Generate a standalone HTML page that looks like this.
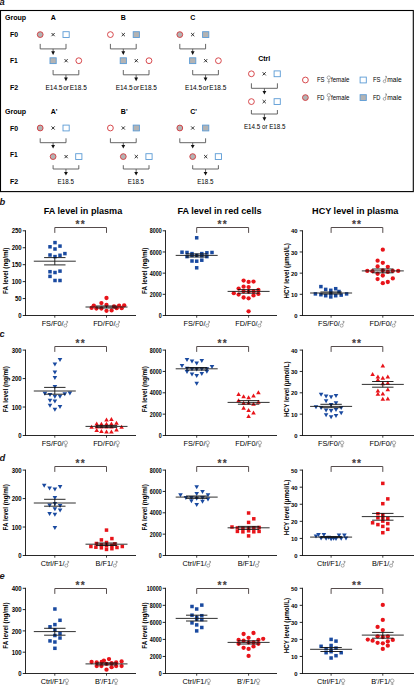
<!DOCTYPE html>
<html><head><meta charset="utf-8"><style>
html,body{margin:0;padding:0;background:#fff;}
body{width:414px;height:685px;overflow:hidden;}
svg{display:block;font-family:"Liberation Sans", sans-serif;}
</style></head><body>
<svg width="414" height="685" viewBox="0 0 414 685">
<rect width="414" height="685" fill="#fff"/>
<rect x="0.5" y="10.5" width="412.8" height="181.1" fill="none" stroke="#000" stroke-width="1.1"/>
<text x="-0.60" y="4.60" font-size="9.4" font-weight="bold" text-anchor="start" fill="#1a1414" font-style="italic">a</text>
<text x="4.90" y="19.80" font-size="7.3" font-weight="bold" text-anchor="start" fill="#000"  textLength="21.20" lengthAdjust="spacingAndGlyphs">Group</text>
<text x="9.90" y="36.90" font-size="7.8" font-weight="bold" text-anchor="start" fill="#000"  textLength="8.10" lengthAdjust="spacingAndGlyphs">F0</text>
<text x="9.90" y="62.90" font-size="7.8" font-weight="bold" text-anchor="start" fill="#000"  textLength="7.80" lengthAdjust="spacingAndGlyphs">F1</text>
<text x="9.90" y="90.00" font-size="7.8" font-weight="bold" text-anchor="start" fill="#000"  textLength="8.20" lengthAdjust="spacingAndGlyphs">F2</text>
<text x="4.90" y="113.80" font-size="7.3" font-weight="bold" text-anchor="start" fill="#000"  textLength="21.20" lengthAdjust="spacingAndGlyphs">Group</text>
<text x="9.90" y="130.90" font-size="7.8" font-weight="bold" text-anchor="start" fill="#000"  textLength="8.10" lengthAdjust="spacingAndGlyphs">F0</text>
<text x="9.90" y="156.90" font-size="7.8" font-weight="bold" text-anchor="start" fill="#000"  textLength="7.80" lengthAdjust="spacingAndGlyphs">F1</text>
<text x="9.90" y="184.00" font-size="7.8" font-weight="bold" text-anchor="start" fill="#000"  textLength="8.20" lengthAdjust="spacingAndGlyphs">F2</text>
<text x="53.20" y="19.90" font-size="7" font-weight="bold" text-anchor="middle" fill="#000" >A</text>
<circle cx="40.20" cy="34.60" r="2.9" fill="#b3b3b3" stroke="#d2363a" stroke-width="0.9"/>
<path d="M51.50,33.00 L54.70,36.20 M54.70,33.00 L51.50,36.20" stroke="#111" stroke-width="0.85" fill="none"/>
<rect x="63.00" y="31.70" width="6.2" height="5.8" fill="#fff" stroke="#5b9bd5" stroke-width="0.9"/>
<path d="M40.20,43.90 V48.90 H66.00 V43.90 M53.10,48.90 V52.00" fill="none" stroke="#555" stroke-width="0.9"/>
<path d="M51.20,51.30 L55.00,51.30 L53.10,55.00 Z" fill="#111"/>
<rect x="50.00" y="57.80" width="6.2" height="5.8" fill="#b3b3b3" stroke="#5b9bd5" stroke-width="0.9"/>
<path d="M64.50,59.10 L67.70,62.30 M67.70,59.10 L64.50,62.30" stroke="#111" stroke-width="0.85" fill="none"/>
<circle cx="78.80" cy="60.70" r="2.9" fill="#fff" stroke="#d2363a" stroke-width="0.9"/>
<path d="M53.10,70.00 V74.80 H78.80 V70.00 M65.95,74.80 V78.20" fill="none" stroke="#555" stroke-width="0.9"/>
<path d="M64.05,77.50 L67.85,77.50 L65.95,81.20 Z" fill="#111"/>
<text x="66.10" y="90.30" font-size="7" text-anchor="middle" fill="#000" word-spacing="-1.1" textLength="41.30" lengthAdjust="spacingAndGlyphs">E14.5 or E18.5</text>
<text x="123.40" y="19.90" font-size="7" font-weight="bold" text-anchor="middle" fill="#000" >B</text>
<circle cx="110.40" cy="34.60" r="2.9" fill="#fff" stroke="#d2363a" stroke-width="0.9"/>
<path d="M121.70,33.00 L124.90,36.20 M124.90,33.00 L121.70,36.20" stroke="#111" stroke-width="0.85" fill="none"/>
<rect x="133.20" y="31.70" width="6.2" height="5.8" fill="#b3b3b3" stroke="#5b9bd5" stroke-width="0.9"/>
<path d="M110.40,43.90 V48.90 H136.20 V43.90 M123.30,48.90 V52.00" fill="none" stroke="#555" stroke-width="0.9"/>
<path d="M121.40,51.30 L125.20,51.30 L123.30,55.00 Z" fill="#111"/>
<rect x="120.20" y="57.80" width="6.2" height="5.8" fill="#b3b3b3" stroke="#5b9bd5" stroke-width="0.9"/>
<path d="M134.70,59.10 L137.90,62.30 M137.90,59.10 L134.70,62.30" stroke="#111" stroke-width="0.85" fill="none"/>
<circle cx="149.00" cy="60.70" r="2.9" fill="#fff" stroke="#d2363a" stroke-width="0.9"/>
<path d="M123.30,70.00 V74.80 H149.00 V70.00 M136.15,74.80 V78.20" fill="none" stroke="#555" stroke-width="0.9"/>
<path d="M134.25,77.50 L138.05,77.50 L136.15,81.20 Z" fill="#111"/>
<text x="136.30" y="90.30" font-size="7" text-anchor="middle" fill="#000" word-spacing="-1.1" textLength="41.30" lengthAdjust="spacingAndGlyphs">E14.5 or E18.5</text>
<text x="192.80" y="19.90" font-size="7" font-weight="bold" text-anchor="middle" fill="#000" >C</text>
<circle cx="179.80" cy="34.60" r="2.9" fill="#b3b3b3" stroke="#d2363a" stroke-width="0.9"/>
<path d="M191.10,33.00 L194.30,36.20 M194.30,33.00 L191.10,36.20" stroke="#111" stroke-width="0.85" fill="none"/>
<rect x="202.60" y="31.70" width="6.2" height="5.8" fill="#b3b3b3" stroke="#5b9bd5" stroke-width="0.9"/>
<path d="M179.80,43.90 V48.90 H205.60 V43.90 M192.70,48.90 V52.00" fill="none" stroke="#555" stroke-width="0.9"/>
<path d="M190.80,51.30 L194.60,51.30 L192.70,55.00 Z" fill="#111"/>
<rect x="189.60" y="57.80" width="6.2" height="5.8" fill="#b3b3b3" stroke="#5b9bd5" stroke-width="0.9"/>
<path d="M204.10,59.10 L207.30,62.30 M207.30,59.10 L204.10,62.30" stroke="#111" stroke-width="0.85" fill="none"/>
<circle cx="218.40" cy="60.70" r="2.9" fill="#fff" stroke="#d2363a" stroke-width="0.9"/>
<path d="M192.70,70.00 V74.80 H218.40 V70.00 M205.55,74.80 V78.20" fill="none" stroke="#555" stroke-width="0.9"/>
<path d="M203.65,77.50 L207.45,77.50 L205.55,81.20 Z" fill="#111"/>
<text x="205.70" y="90.30" font-size="7" text-anchor="middle" fill="#000" word-spacing="-1.1" textLength="41.30" lengthAdjust="spacingAndGlyphs">E14.5 or E18.5</text>
<text x="50.67" y="113.90" font-size="7" font-weight="bold" text-anchor="start" fill="#000" >A'</text>
<circle cx="40.20" cy="128.00" r="2.9" fill="#b3b3b3" stroke="#d2363a" stroke-width="0.9"/>
<path d="M51.50,126.40 L54.70,129.60 M54.70,126.40 L51.50,129.60" stroke="#111" stroke-width="0.85" fill="none"/>
<rect x="63.00" y="125.10" width="6.2" height="5.8" fill="#fff" stroke="#5b9bd5" stroke-width="0.9"/>
<path d="M40.20,138.30 V142.70 H66.00 V138.30 M53.10,142.70 V145.60" fill="none" stroke="#555" stroke-width="0.9"/>
<path d="M51.20,144.90 L55.00,144.90 L53.10,148.60 Z" fill="#111"/>
<circle cx="53.10" cy="156.60" r="2.9" fill="#b3b3b3" stroke="#d2363a" stroke-width="0.9"/>
<path d="M64.50,155.00 L67.70,158.20 M67.70,155.00 L64.50,158.20" stroke="#111" stroke-width="0.85" fill="none"/>
<rect x="75.70" y="153.70" width="6.2" height="5.8" fill="#fff" stroke="#5b9bd5" stroke-width="0.9"/>
<path d="M53.10,165.20 V169.00 H78.80 V165.20 M65.95,169.00 V172.60" fill="none" stroke="#555" stroke-width="0.9"/>
<path d="M64.05,171.90 L67.85,171.90 L65.95,175.60 Z" fill="#111"/>
<text x="65.70" y="184.00" font-size="7" text-anchor="middle" fill="#000"  textLength="16.30" lengthAdjust="spacingAndGlyphs">E18.5</text>
<text x="120.87" y="113.90" font-size="7" font-weight="bold" text-anchor="start" fill="#000" >B'</text>
<circle cx="110.40" cy="128.00" r="2.9" fill="#fff" stroke="#d2363a" stroke-width="0.9"/>
<path d="M121.70,126.40 L124.90,129.60 M124.90,126.40 L121.70,129.60" stroke="#111" stroke-width="0.85" fill="none"/>
<rect x="133.20" y="125.10" width="6.2" height="5.8" fill="#b3b3b3" stroke="#5b9bd5" stroke-width="0.9"/>
<path d="M110.40,138.30 V142.70 H136.20 V138.30 M123.30,142.70 V145.60" fill="none" stroke="#555" stroke-width="0.9"/>
<path d="M121.40,144.90 L125.20,144.90 L123.30,148.60 Z" fill="#111"/>
<circle cx="123.30" cy="156.60" r="2.9" fill="#b3b3b3" stroke="#d2363a" stroke-width="0.9"/>
<path d="M134.70,155.00 L137.90,158.20 M137.90,155.00 L134.70,158.20" stroke="#111" stroke-width="0.85" fill="none"/>
<rect x="145.90" y="153.70" width="6.2" height="5.8" fill="#fff" stroke="#5b9bd5" stroke-width="0.9"/>
<path d="M123.30,165.20 V169.00 H149.00 V165.20 M136.15,169.00 V172.60" fill="none" stroke="#555" stroke-width="0.9"/>
<path d="M134.25,171.90 L138.05,171.90 L136.15,175.60 Z" fill="#111"/>
<text x="135.90" y="184.00" font-size="7" text-anchor="middle" fill="#000"  textLength="16.30" lengthAdjust="spacingAndGlyphs">E18.5</text>
<text x="190.27" y="113.90" font-size="7" font-weight="bold" text-anchor="start" fill="#000" >C'</text>
<circle cx="179.80" cy="128.00" r="2.9" fill="#b3b3b3" stroke="#d2363a" stroke-width="0.9"/>
<path d="M191.10,126.40 L194.30,129.60 M194.30,126.40 L191.10,129.60" stroke="#111" stroke-width="0.85" fill="none"/>
<rect x="202.60" y="125.10" width="6.2" height="5.8" fill="#b3b3b3" stroke="#5b9bd5" stroke-width="0.9"/>
<path d="M179.80,138.30 V142.70 H205.60 V138.30 M192.70,142.70 V145.60" fill="none" stroke="#555" stroke-width="0.9"/>
<path d="M190.80,144.90 L194.60,144.90 L192.70,148.60 Z" fill="#111"/>
<circle cx="192.70" cy="156.60" r="2.9" fill="#b3b3b3" stroke="#d2363a" stroke-width="0.9"/>
<path d="M204.10,155.00 L207.30,158.20 M207.30,155.00 L204.10,158.20" stroke="#111" stroke-width="0.85" fill="none"/>
<rect x="215.30" y="153.70" width="6.2" height="5.8" fill="#fff" stroke="#5b9bd5" stroke-width="0.9"/>
<path d="M192.70,165.20 V169.00 H218.40 V165.20 M205.55,169.00 V172.60" fill="none" stroke="#555" stroke-width="0.9"/>
<path d="M203.65,171.90 L207.45,171.90 L205.55,175.60 Z" fill="#111"/>
<text x="205.30" y="184.00" font-size="7" text-anchor="middle" fill="#000"  textLength="16.30" lengthAdjust="spacingAndGlyphs">E18.5</text>
<text x="264.20" y="61.00" font-size="7" font-weight="bold" text-anchor="middle" fill="#000" >Ctrl</text>
<circle cx="251.40" cy="73.80" r="2.9" fill="#fff" stroke="#d2363a" stroke-width="0.9"/>
<path d="M262.60,72.20 L265.80,75.40 M265.80,72.20 L262.60,75.40" stroke="#111" stroke-width="0.85" fill="none"/>
<rect x="274.10" y="70.90" width="6.2" height="5.8" fill="#fff" stroke="#5b9bd5" stroke-width="0.9"/>
<circle cx="251.40" cy="101.60" r="2.9" fill="#fff" stroke="#d2363a" stroke-width="0.9"/>
<path d="M262.60,100.00 L265.80,103.20 M265.80,100.00 L262.60,103.20" stroke="#111" stroke-width="0.85" fill="none"/>
<rect x="274.10" y="98.70" width="6.2" height="5.8" fill="#fff" stroke="#5b9bd5" stroke-width="0.9"/>
<path d="M251.40,83.30 V88.30 H277.40 V83.30 M264.40,88.30 V91.60" fill="none" stroke="#555" stroke-width="0.9"/>
<path d="M262.50,90.90 L266.30,90.90 L264.40,94.60 Z" fill="#111"/>
<path d="M251.40,110.00 V114.00 H277.40 V110.00 M264.40,114.00 V118.00" fill="none" stroke="#555" stroke-width="0.9"/>
<path d="M262.50,117.30 L266.30,117.30 L264.40,121.00 Z" fill="#111"/>
<text x="264.70" y="129.10" font-size="6.8" text-anchor="middle" fill="#000"  textLength="41.50" lengthAdjust="spacingAndGlyphs">E14.5 or E18.5</text>
<circle cx="305.40" cy="80.00" r="2.9" fill="#fff" stroke="#d2363a" stroke-width="0.9"/>
<rect x="360.10" y="77.10" width="6.2" height="5.8" fill="#fff" stroke="#5b9bd5" stroke-width="0.9"/>
<circle cx="305.40" cy="97.60" r="2.9" fill="#b3b3b3" stroke="#d2363a" stroke-width="0.9"/>
<rect x="360.10" y="94.70" width="6.2" height="5.8" fill="#b3b3b3" stroke="#5b9bd5" stroke-width="0.9"/>
<text x="316.90" y="82.40" font-size="7.4" text-anchor="start" fill="#000"  textLength="7.60" lengthAdjust="spacingAndGlyphs">FS</text>
<g fill="none" stroke="#858585" stroke-width="0.7"><circle cx="328.80" cy="77.65" r="1.70"/><path d="M328.80,79.35 V83.60 M327.44,81.48 H330.16"/></g>
<text x="331.00" y="82.40" font-size="7.4" text-anchor="start" fill="#000"  textLength="18.40" lengthAdjust="spacingAndGlyphs">female</text>
<text x="372.90" y="82.40" font-size="7.4" text-anchor="start" fill="#000"  textLength="7.60" lengthAdjust="spacingAndGlyphs">FS</text>
<g fill="none" stroke="#858585" stroke-width="0.7"><circle cx="384.51" cy="81.29" r="1.36"/><path d="M385.46,80.34 L386.45,76.35 M385.05,76.35 H386.45 V77.75"/></g>
<text x="387.20" y="82.40" font-size="7.4" text-anchor="start" fill="#000"  textLength="14.40" lengthAdjust="spacingAndGlyphs">male</text>
<text x="316.90" y="100.00" font-size="7.4" text-anchor="start" fill="#000"  textLength="7.60" lengthAdjust="spacingAndGlyphs">FD</text>
<g fill="none" stroke="#858585" stroke-width="0.7"><circle cx="328.80" cy="95.25" r="1.70"/><path d="M328.80,96.95 V101.20 M327.44,99.08 H330.16"/></g>
<text x="331.00" y="100.00" font-size="7.4" text-anchor="start" fill="#000"  textLength="18.40" lengthAdjust="spacingAndGlyphs">female</text>
<text x="372.90" y="100.00" font-size="7.4" text-anchor="start" fill="#000"  textLength="7.60" lengthAdjust="spacingAndGlyphs">FD</text>
<g fill="none" stroke="#858585" stroke-width="0.7"><circle cx="384.51" cy="98.89" r="1.36"/><path d="M385.46,97.94 L386.45,93.95 M385.05,93.95 H386.45 V95.35"/></g>
<text x="387.20" y="100.00" font-size="7.4" text-anchor="start" fill="#000"  textLength="14.40" lengthAdjust="spacingAndGlyphs">male</text>
<line x1="25.50" y1="230.30" x2="25.50" y2="315.95" stroke="#111" stroke-width="0.9"/>
<line x1="22.70" y1="315.50" x2="25.50" y2="315.50" stroke="#111" stroke-width="0.9"/>
<text x="21.70" y="318.12" font-size="6.3" font-weight="bold" text-anchor="end" fill="#000"  textLength="3.33" lengthAdjust="spacingAndGlyphs">0</text>
<line x1="22.70" y1="298.56" x2="25.50" y2="298.56" stroke="#111" stroke-width="0.9"/>
<text x="21.70" y="301.18" font-size="6.3" font-weight="bold" text-anchor="end" fill="#000"  textLength="6.66" lengthAdjust="spacingAndGlyphs">50</text>
<line x1="22.70" y1="281.62" x2="25.50" y2="281.62" stroke="#111" stroke-width="0.9"/>
<text x="21.70" y="284.24" font-size="6.3" font-weight="bold" text-anchor="end" fill="#000"  textLength="9.99" lengthAdjust="spacingAndGlyphs">100</text>
<line x1="22.70" y1="264.68" x2="25.50" y2="264.68" stroke="#111" stroke-width="0.9"/>
<text x="21.70" y="267.30" font-size="6.3" font-weight="bold" text-anchor="end" fill="#000"  textLength="9.99" lengthAdjust="spacingAndGlyphs">150</text>
<line x1="22.70" y1="247.74" x2="25.50" y2="247.74" stroke="#111" stroke-width="0.9"/>
<text x="21.70" y="250.36" font-size="6.3" font-weight="bold" text-anchor="end" fill="#000"  textLength="9.99" lengthAdjust="spacingAndGlyphs">200</text>
<line x1="22.70" y1="230.80" x2="25.50" y2="230.80" stroke="#111" stroke-width="0.9"/>
<text x="21.70" y="233.42" font-size="6.3" font-weight="bold" text-anchor="end" fill="#000"  textLength="9.99" lengthAdjust="spacingAndGlyphs">250</text>
<line x1="25.05" y1="315.50" x2="136.00" y2="315.50" stroke="#111" stroke-width="0.9"/>
<line x1="54.80" y1="315.50" x2="54.80" y2="317.70" stroke="#111" stroke-width="0.8"/>
<line x1="106.50" y1="315.50" x2="106.50" y2="317.70" stroke="#111" stroke-width="0.8"/>
<text x="41.65" y="326.00" font-size="7.3" text-anchor="start" fill="#000" >FS/F0/</text>
<g fill="none" stroke="#858585" stroke-width="0.7"><circle cx="65.33" cy="325.62" r="1.53"/><path d="M66.40,324.55 L67.60,321.35 M66.20,321.35 H67.60 V322.75"/></g>
<text x="93.15" y="326.00" font-size="7.3" text-anchor="start" fill="#000" >FD/F0/</text>
<g fill="none" stroke="#858585" stroke-width="0.7"><circle cx="117.23" cy="325.62" r="1.53"/><path d="M118.30,324.55 L119.50,321.35 M118.10,321.35 H119.50 V322.75"/></g>
<text x="0" y="0" font-size="6.3" font-weight="bold" text-anchor="middle" transform="translate(8.10,270.80) rotate(-90)">FA level (ng/ml)</text>
<path d="M54.80,232.90 V227.50 H106.50 V232.90" fill="none" stroke="#554c4c" stroke-width="1"/>
<text x="75.60" y="228.40" font-size="10.2" font-weight="bold" text-anchor="start" fill="#453d3d" letter-spacing="1.2" stroke="#453d3d" stroke-width="0.1">**</text>
<text x="83.00" y="213.90" font-size="9.1" font-weight="bold" text-anchor="middle" fill="#000" >FA level in plasma</text>
<rect x="53.25" y="240.85" width="3.5" height="3.5" fill="#1a4aa0"/>
<rect x="48.25" y="245.05" width="3.5" height="3.5" fill="#1a4aa0"/>
<rect x="58.25" y="244.35" width="3.5" height="3.5" fill="#1a4aa0"/>
<rect x="53.25" y="247.25" width="3.5" height="3.5" fill="#1a4aa0"/>
<rect x="63.15" y="251.85" width="3.5" height="3.5" fill="#1a4aa0"/>
<rect x="48.25" y="253.25" width="3.5" height="3.5" fill="#1a4aa0"/>
<rect x="58.25" y="253.55" width="3.5" height="3.5" fill="#1a4aa0"/>
<rect x="53.25" y="254.85" width="3.5" height="3.5" fill="#1a4aa0"/>
<rect x="48.25" y="269.95" width="3.5" height="3.5" fill="#1a4aa0"/>
<rect x="53.25" y="270.75" width="3.5" height="3.5" fill="#1a4aa0"/>
<rect x="58.25" y="269.35" width="3.5" height="3.5" fill="#1a4aa0"/>
<rect x="48.25" y="274.65" width="3.5" height="3.5" fill="#1a4aa0"/>
<rect x="53.25" y="278.75" width="3.5" height="3.5" fill="#1a4aa0"/>
<rect x="58.25" y="278.75" width="3.5" height="3.5" fill="#1a4aa0"/>
<line x1="44.10" y1="257.60" x2="65.50" y2="257.60" stroke="#111" stroke-width="0.9"/>
<line x1="44.10" y1="264.90" x2="65.50" y2="264.90" stroke="#111" stroke-width="0.9"/>
<line x1="54.80" y1="257.60" x2="54.80" y2="264.90" stroke="#111" stroke-width="0.9"/>
<line x1="33.80" y1="261.20" x2="75.80" y2="261.20" stroke="#1a1a1a" stroke-width="0.9"/>
<circle cx="106.50" cy="298.00" r="2.15" fill="#e8141a"/>
<circle cx="101.40" cy="303.10" r="2.15" fill="#e8141a"/>
<circle cx="93.80" cy="305.60" r="2.15" fill="#e8141a"/>
<circle cx="119.10" cy="305.60" r="2.15" fill="#e8141a"/>
<circle cx="124.20" cy="305.30" r="2.15" fill="#e8141a"/>
<circle cx="106.50" cy="304.90" r="2.15" fill="#e8141a"/>
<circle cx="91.60" cy="307.90" r="2.15" fill="#e8141a"/>
<circle cx="96.40" cy="308.50" r="2.15" fill="#e8141a"/>
<circle cx="101.40" cy="308.50" r="2.15" fill="#e8141a"/>
<circle cx="106.50" cy="310.80" r="2.15" fill="#e8141a"/>
<circle cx="111.60" cy="310.40" r="2.15" fill="#e8141a"/>
<circle cx="116.70" cy="308.20" r="2.15" fill="#e8141a"/>
<circle cx="121.70" cy="308.20" r="2.15" fill="#e8141a"/>
<circle cx="114.00" cy="306.40" r="2.15" fill="#e8141a"/>
<line x1="95.80" y1="306.00" x2="117.20" y2="306.00" stroke="#111" stroke-width="0.9"/>
<line x1="95.80" y1="308.00" x2="117.20" y2="308.00" stroke="#111" stroke-width="0.9"/>
<line x1="106.50" y1="306.00" x2="106.50" y2="308.00" stroke="#111" stroke-width="0.9"/>
<line x1="85.50" y1="307.00" x2="127.50" y2="307.00" stroke="#1a1a1a" stroke-width="0.9"/>
<line x1="165.50" y1="230.30" x2="165.50" y2="315.95" stroke="#111" stroke-width="0.9"/>
<line x1="162.70" y1="315.50" x2="165.50" y2="315.50" stroke="#111" stroke-width="0.9"/>
<text x="161.70" y="318.12" font-size="6.3" font-weight="bold" text-anchor="end" fill="#000"  textLength="2.98" lengthAdjust="spacingAndGlyphs">0</text>
<line x1="162.70" y1="294.32" x2="165.50" y2="294.32" stroke="#111" stroke-width="0.9"/>
<text x="161.70" y="296.94" font-size="6.3" font-weight="bold" text-anchor="end" fill="#000"  textLength="11.91" lengthAdjust="spacingAndGlyphs">2000</text>
<line x1="162.70" y1="273.15" x2="165.50" y2="273.15" stroke="#111" stroke-width="0.9"/>
<text x="161.70" y="275.77" font-size="6.3" font-weight="bold" text-anchor="end" fill="#000"  textLength="11.91" lengthAdjust="spacingAndGlyphs">4000</text>
<line x1="162.70" y1="251.98" x2="165.50" y2="251.98" stroke="#111" stroke-width="0.9"/>
<text x="161.70" y="254.59" font-size="6.3" font-weight="bold" text-anchor="end" fill="#000"  textLength="11.91" lengthAdjust="spacingAndGlyphs">6000</text>
<line x1="162.70" y1="230.80" x2="165.50" y2="230.80" stroke="#111" stroke-width="0.9"/>
<text x="161.70" y="233.42" font-size="6.3" font-weight="bold" text-anchor="end" fill="#000"  textLength="11.91" lengthAdjust="spacingAndGlyphs">8000</text>
<line x1="165.05" y1="315.50" x2="277.00" y2="315.50" stroke="#111" stroke-width="0.9"/>
<line x1="196.70" y1="315.50" x2="196.70" y2="317.70" stroke="#111" stroke-width="0.8"/>
<line x1="248.60" y1="315.50" x2="248.60" y2="317.70" stroke="#111" stroke-width="0.8"/>
<text x="183.55" y="326.00" font-size="7.3" text-anchor="start" fill="#000" >FS/F0/</text>
<g fill="none" stroke="#858585" stroke-width="0.7"><circle cx="207.23" cy="325.62" r="1.53"/><path d="M208.30,324.55 L209.50,321.35 M208.10,321.35 H209.50 V322.75"/></g>
<text x="235.25" y="326.00" font-size="7.3" text-anchor="start" fill="#000" >FD/F0/</text>
<g fill="none" stroke="#858585" stroke-width="0.7"><circle cx="259.33" cy="325.62" r="1.53"/><path d="M260.40,324.55 L261.60,321.35 M260.20,321.35 H261.60 V322.75"/></g>
<text x="0" y="0" font-size="6.3" font-weight="bold" text-anchor="middle" transform="translate(146.60,270.80) rotate(-90)">FA level (ng/ml)</text>
<path d="M196.70,232.90 V227.50 H248.60 V232.90" fill="none" stroke="#554c4c" stroke-width="1"/>
<text x="217.60" y="228.40" font-size="10.2" font-weight="bold" text-anchor="start" fill="#453d3d" letter-spacing="1.2" stroke="#453d3d" stroke-width="0.1">**</text>
<text x="219.50" y="213.90" font-size="9.1" font-weight="bold" text-anchor="middle" fill="#000" >FA level in red cells</text>
<rect x="194.95" y="236.05" width="3.5" height="3.5" fill="#1a4aa0"/>
<rect x="180.25" y="250.45" width="3.5" height="3.5" fill="#1a4aa0"/>
<rect x="185.25" y="250.75" width="3.5" height="3.5" fill="#1a4aa0"/>
<rect x="190.25" y="251.85" width="3.5" height="3.5" fill="#1a4aa0"/>
<rect x="200.05" y="251.85" width="3.5" height="3.5" fill="#1a4aa0"/>
<rect x="205.15" y="251.05" width="3.5" height="3.5" fill="#1a4aa0"/>
<rect x="210.25" y="250.75" width="3.5" height="3.5" fill="#1a4aa0"/>
<rect x="185.25" y="254.85" width="3.5" height="3.5" fill="#1a4aa0"/>
<rect x="190.25" y="253.65" width="3.5" height="3.5" fill="#1a4aa0"/>
<rect x="194.95" y="253.65" width="3.5" height="3.5" fill="#1a4aa0"/>
<rect x="200.05" y="253.95" width="3.5" height="3.5" fill="#1a4aa0"/>
<rect x="205.15" y="254.85" width="3.5" height="3.5" fill="#1a4aa0"/>
<rect x="190.25" y="259.25" width="3.5" height="3.5" fill="#1a4aa0"/>
<rect x="194.95" y="259.45" width="3.5" height="3.5" fill="#1a4aa0"/>
<rect x="200.05" y="258.45" width="3.5" height="3.5" fill="#1a4aa0"/>
<rect x="194.95" y="266.05" width="3.5" height="3.5" fill="#1a4aa0"/>
<line x1="186.00" y1="253.90" x2="207.40" y2="253.90" stroke="#111" stroke-width="0.9"/>
<line x1="186.00" y1="257.00" x2="207.40" y2="257.00" stroke="#111" stroke-width="0.9"/>
<line x1="196.70" y1="253.90" x2="196.70" y2="257.00" stroke="#111" stroke-width="0.9"/>
<line x1="175.70" y1="255.40" x2="217.70" y2="255.40" stroke="#1a1a1a" stroke-width="0.9"/>
<circle cx="243.60" cy="280.60" r="2.15" fill="#e8141a"/>
<circle cx="248.60" cy="281.90" r="2.15" fill="#e8141a"/>
<circle cx="253.50" cy="281.60" r="2.15" fill="#e8141a"/>
<circle cx="243.60" cy="286.70" r="2.15" fill="#e8141a"/>
<circle cx="248.60" cy="287.10" r="2.15" fill="#e8141a"/>
<circle cx="238.60" cy="288.60" r="2.15" fill="#e8141a"/>
<circle cx="243.60" cy="291.30" r="2.15" fill="#e8141a"/>
<circle cx="248.60" cy="291.70" r="2.15" fill="#e8141a"/>
<circle cx="253.50" cy="291.40" r="2.15" fill="#e8141a"/>
<circle cx="258.40" cy="290.00" r="2.15" fill="#e8141a"/>
<circle cx="233.80" cy="293.20" r="2.15" fill="#e8141a"/>
<circle cx="238.60" cy="294.60" r="2.15" fill="#e8141a"/>
<circle cx="253.50" cy="295.40" r="2.15" fill="#e8141a"/>
<circle cx="258.40" cy="293.90" r="2.15" fill="#e8141a"/>
<circle cx="243.60" cy="297.50" r="2.15" fill="#e8141a"/>
<circle cx="248.60" cy="298.30" r="2.15" fill="#e8141a"/>
<circle cx="248.60" cy="311.30" r="2.15" fill="#e8141a"/>
<line x1="237.90" y1="289.60" x2="259.30" y2="289.60" stroke="#111" stroke-width="0.9"/>
<line x1="237.90" y1="293.20" x2="259.30" y2="293.20" stroke="#111" stroke-width="0.9"/>
<line x1="248.60" y1="289.60" x2="248.60" y2="293.20" stroke="#111" stroke-width="0.9"/>
<line x1="227.60" y1="291.40" x2="269.60" y2="291.40" stroke="#1a1a1a" stroke-width="0.9"/>
<line x1="302.50" y1="230.30" x2="302.50" y2="315.95" stroke="#111" stroke-width="0.9"/>
<line x1="299.70" y1="315.50" x2="302.50" y2="315.50" stroke="#111" stroke-width="0.9"/>
<text x="297.50" y="318.05" font-size="6.1" font-weight="bold" text-anchor="end" fill="#000"  textLength="3.26" lengthAdjust="spacingAndGlyphs">0</text>
<line x1="299.70" y1="294.32" x2="302.50" y2="294.32" stroke="#111" stroke-width="0.9"/>
<text x="297.50" y="296.87" font-size="6.1" font-weight="bold" text-anchor="end" fill="#000"  textLength="6.51" lengthAdjust="spacingAndGlyphs">10</text>
<line x1="299.70" y1="273.15" x2="302.50" y2="273.15" stroke="#111" stroke-width="0.9"/>
<text x="297.50" y="275.70" font-size="6.1" font-weight="bold" text-anchor="end" fill="#000"  textLength="6.51" lengthAdjust="spacingAndGlyphs">20</text>
<line x1="299.70" y1="251.98" x2="302.50" y2="251.98" stroke="#111" stroke-width="0.9"/>
<text x="297.50" y="254.52" font-size="6.1" font-weight="bold" text-anchor="end" fill="#000"  textLength="6.51" lengthAdjust="spacingAndGlyphs">30</text>
<line x1="299.70" y1="230.80" x2="302.50" y2="230.80" stroke="#111" stroke-width="0.9"/>
<text x="297.50" y="233.35" font-size="6.1" font-weight="bold" text-anchor="end" fill="#000"  textLength="6.51" lengthAdjust="spacingAndGlyphs">40</text>
<line x1="302.05" y1="315.50" x2="414.50" y2="315.50" stroke="#111" stroke-width="0.9"/>
<line x1="331.10" y1="315.50" x2="331.10" y2="317.70" stroke="#111" stroke-width="0.8"/>
<line x1="382.80" y1="315.50" x2="382.80" y2="317.70" stroke="#111" stroke-width="0.8"/>
<text x="317.95" y="326.00" font-size="7.3" text-anchor="start" fill="#000" >FS/F0/</text>
<g fill="none" stroke="#858585" stroke-width="0.7"><circle cx="341.63" cy="325.62" r="1.53"/><path d="M342.70,324.55 L343.90,321.35 M342.50,321.35 H343.90 V322.75"/></g>
<text x="369.45" y="326.00" font-size="7.3" text-anchor="start" fill="#000" >FD/F0/</text>
<g fill="none" stroke="#858585" stroke-width="0.7"><circle cx="393.53" cy="325.62" r="1.53"/><path d="M394.60,324.55 L395.80,321.35 M394.40,321.35 H395.80 V322.75"/></g>
<text x="0" y="0" font-size="6.3" font-weight="bold" text-anchor="middle" transform="translate(288.80,270.80) rotate(-90)">HCY level (μmol/L)</text>
<path d="M331.10,232.90 V227.50 H382.80 V232.90" fill="none" stroke="#554c4c" stroke-width="1"/>
<text x="351.90" y="228.40" font-size="10.2" font-weight="bold" text-anchor="start" fill="#453d3d" letter-spacing="1.2" stroke="#453d3d" stroke-width="0.1">**</text>
<text x="355.20" y="213.90" font-size="9.1" font-weight="bold" text-anchor="middle" fill="#000" >HCY level in plasma</text>
<rect x="319.15" y="284.85" width="3.5" height="3.5" fill="#1a4aa0"/>
<rect x="323.95" y="287.65" width="3.5" height="3.5" fill="#1a4aa0"/>
<rect x="329.05" y="288.55" width="3.5" height="3.5" fill="#1a4aa0"/>
<rect x="333.95" y="286.95" width="3.5" height="3.5" fill="#1a4aa0"/>
<rect x="337.25" y="289.75" width="3.5" height="3.5" fill="#1a4aa0"/>
<rect x="313.65" y="292.15" width="3.5" height="3.5" fill="#1a4aa0"/>
<rect x="319.15" y="292.95" width="3.5" height="3.5" fill="#1a4aa0"/>
<rect x="323.95" y="293.95" width="3.5" height="3.5" fill="#1a4aa0"/>
<rect x="329.05" y="295.15" width="3.5" height="3.5" fill="#1a4aa0"/>
<rect x="333.95" y="293.95" width="3.5" height="3.5" fill="#1a4aa0"/>
<rect x="339.45" y="293.35" width="3.5" height="3.5" fill="#1a4aa0"/>
<rect x="344.85" y="292.15" width="3.5" height="3.5" fill="#1a4aa0"/>
<rect x="329.05" y="291.75" width="3.5" height="3.5" fill="#1a4aa0"/>
<line x1="320.40" y1="292.00" x2="341.80" y2="292.00" stroke="#111" stroke-width="0.9"/>
<line x1="320.40" y1="294.00" x2="341.80" y2="294.00" stroke="#111" stroke-width="0.9"/>
<line x1="331.10" y1="292.00" x2="331.10" y2="294.00" stroke="#111" stroke-width="0.9"/>
<line x1="310.10" y1="293.00" x2="352.10" y2="293.00" stroke="#1a1a1a" stroke-width="0.9"/>
<circle cx="382.80" cy="249.70" r="2.15" fill="#e8141a"/>
<circle cx="377.60" cy="260.70" r="2.15" fill="#e8141a"/>
<circle cx="382.80" cy="262.80" r="2.15" fill="#e8141a"/>
<circle cx="377.60" cy="266.40" r="2.15" fill="#e8141a"/>
<circle cx="387.80" cy="266.80" r="2.15" fill="#e8141a"/>
<circle cx="367.30" cy="270.90" r="2.15" fill="#e8141a"/>
<circle cx="372.40" cy="271.20" r="2.15" fill="#e8141a"/>
<circle cx="382.80" cy="270.40" r="2.15" fill="#e8141a"/>
<circle cx="387.80" cy="271.90" r="2.15" fill="#e8141a"/>
<circle cx="392.80" cy="270.90" r="2.15" fill="#e8141a"/>
<circle cx="398.20" cy="270.90" r="2.15" fill="#e8141a"/>
<circle cx="377.60" cy="273.80" r="2.15" fill="#e8141a"/>
<circle cx="382.80" cy="275.50" r="2.15" fill="#e8141a"/>
<circle cx="377.60" cy="279.10" r="2.15" fill="#e8141a"/>
<circle cx="392.80" cy="278.40" r="2.15" fill="#e8141a"/>
<circle cx="387.80" cy="282.00" r="2.15" fill="#e8141a"/>
<circle cx="382.80" cy="283.20" r="2.15" fill="#e8141a"/>
<line x1="372.10" y1="269.00" x2="393.50" y2="269.00" stroke="#111" stroke-width="0.9"/>
<line x1="372.10" y1="272.80" x2="393.50" y2="272.80" stroke="#111" stroke-width="0.9"/>
<line x1="382.80" y1="269.00" x2="382.80" y2="272.80" stroke="#111" stroke-width="0.9"/>
<line x1="361.80" y1="270.90" x2="403.80" y2="270.90" stroke="#1a1a1a" stroke-width="0.9"/>
<line x1="25.50" y1="349.60" x2="25.50" y2="435.95" stroke="#111" stroke-width="0.9"/>
<line x1="22.70" y1="435.50" x2="25.50" y2="435.50" stroke="#111" stroke-width="0.9"/>
<text x="21.70" y="438.12" font-size="6.3" font-weight="bold" text-anchor="end" fill="#000"  textLength="3.33" lengthAdjust="spacingAndGlyphs">0</text>
<line x1="22.70" y1="407.03" x2="25.50" y2="407.03" stroke="#111" stroke-width="0.9"/>
<text x="21.70" y="409.65" font-size="6.3" font-weight="bold" text-anchor="end" fill="#000"  textLength="9.99" lengthAdjust="spacingAndGlyphs">100</text>
<line x1="22.70" y1="378.57" x2="25.50" y2="378.57" stroke="#111" stroke-width="0.9"/>
<text x="21.70" y="381.18" font-size="6.3" font-weight="bold" text-anchor="end" fill="#000"  textLength="9.99" lengthAdjust="spacingAndGlyphs">200</text>
<line x1="22.70" y1="350.10" x2="25.50" y2="350.10" stroke="#111" stroke-width="0.9"/>
<text x="21.70" y="352.72" font-size="6.3" font-weight="bold" text-anchor="end" fill="#000"  textLength="9.99" lengthAdjust="spacingAndGlyphs">300</text>
<line x1="25.05" y1="435.50" x2="136.00" y2="435.50" stroke="#111" stroke-width="0.9"/>
<line x1="54.80" y1="435.50" x2="54.80" y2="437.70" stroke="#111" stroke-width="0.8"/>
<line x1="106.50" y1="435.50" x2="106.50" y2="437.70" stroke="#111" stroke-width="0.8"/>
<text x="41.65" y="446.00" font-size="7.3" text-anchor="start" fill="#000" >FS/F0/</text>
<g fill="none" stroke="#858585" stroke-width="0.7"><circle cx="65.75" cy="442.74" r="1.78"/><path d="M65.75,444.52 V447.60 M64.32,446.06 H67.18"/></g>
<text x="93.15" y="446.00" font-size="7.3" text-anchor="start" fill="#000" >FD/F0/</text>
<g fill="none" stroke="#858585" stroke-width="0.7"><circle cx="117.65" cy="442.74" r="1.78"/><path d="M117.65,444.52 V447.60 M116.23,446.06 H119.08"/></g>
<text x="0" y="0" font-size="6.3" font-weight="bold" text-anchor="middle" transform="translate(8.10,389.20) rotate(-90)">FA level (ng/ml)</text>
<path d="M54.80,351.90 V346.50 H106.50 V351.90" fill="none" stroke="#554c4c" stroke-width="1"/>
<text x="75.60" y="347.40" font-size="10.2" font-weight="bold" text-anchor="start" fill="#453d3d" letter-spacing="1.2" stroke="#453d3d" stroke-width="0.1">**</text>
<path d="M57.70,358.10 H62.30 L60.00,362.10 Z" fill="#1a4aa0"/>
<path d="M52.60,362.50 H57.20 L54.90,366.50 Z" fill="#1a4aa0"/>
<path d="M52.60,370.40 H57.20 L54.90,374.40 Z" fill="#1a4aa0"/>
<path d="M52.60,375.90 H57.20 L54.90,379.90 Z" fill="#1a4aa0"/>
<path d="M52.60,384.90 H57.20 L54.90,388.90 Z" fill="#1a4aa0"/>
<path d="M42.60,391.70 H47.20 L44.90,395.70 Z" fill="#1a4aa0"/>
<path d="M47.70,392.90 H52.30 L50.00,396.90 Z" fill="#1a4aa0"/>
<path d="M52.60,394.80 H57.20 L54.90,398.80 Z" fill="#1a4aa0"/>
<path d="M57.70,394.80 H62.30 L60.00,398.80 Z" fill="#1a4aa0"/>
<path d="M62.50,392.20 H67.10 L64.80,396.20 Z" fill="#1a4aa0"/>
<path d="M67.60,391.50 H72.20 L69.90,395.50 Z" fill="#1a4aa0"/>
<path d="M47.70,398.70 H52.30 L50.00,402.70 Z" fill="#1a4aa0"/>
<path d="M52.60,399.40 H57.20 L54.90,403.40 Z" fill="#1a4aa0"/>
<path d="M47.70,403.80 H52.30 L50.00,407.80 Z" fill="#1a4aa0"/>
<path d="M57.70,404.90 H62.30 L60.00,408.90 Z" fill="#1a4aa0"/>
<path d="M52.60,407.80 H57.20 L54.90,411.80 Z" fill="#1a4aa0"/>
<line x1="44.10" y1="387.40" x2="65.50" y2="387.40" stroke="#111" stroke-width="0.9"/>
<line x1="44.10" y1="394.20" x2="65.50" y2="394.20" stroke="#111" stroke-width="0.9"/>
<line x1="54.80" y1="387.40" x2="54.80" y2="394.20" stroke="#111" stroke-width="0.9"/>
<line x1="33.80" y1="391.00" x2="75.80" y2="391.00" stroke="#1a1a1a" stroke-width="0.9"/>
<path d="M104.20,421.50 H108.80 L106.50,417.50 Z" fill="#e8141a"/>
<path d="M109.10,421.10 H113.70 L111.40,417.10 Z" fill="#e8141a"/>
<path d="M94.40,425.40 H99.00 L96.70,421.40 Z" fill="#e8141a"/>
<path d="M99.10,425.80 H103.70 L101.40,421.80 Z" fill="#e8141a"/>
<path d="M104.20,425.80 H108.80 L106.50,421.80 Z" fill="#e8141a"/>
<path d="M109.10,425.40 H113.70 L111.40,421.40 Z" fill="#e8141a"/>
<path d="M114.20,424.70 H118.80 L116.50,420.70 Z" fill="#e8141a"/>
<path d="M89.30,428.70 H93.90 L91.60,424.70 Z" fill="#e8141a"/>
<path d="M94.40,428.40 H99.00 L96.70,424.40 Z" fill="#e8141a"/>
<path d="M99.10,428.40 H103.70 L101.40,424.40 Z" fill="#e8141a"/>
<path d="M104.20,428.40 H108.80 L106.50,424.40 Z" fill="#e8141a"/>
<path d="M109.10,428.40 H113.70 L111.40,424.40 Z" fill="#e8141a"/>
<path d="M119.30,428.70 H123.90 L121.60,424.70 Z" fill="#e8141a"/>
<path d="M94.40,431.90 H99.00 L96.70,427.90 Z" fill="#e8141a"/>
<path d="M99.10,433.10 H103.70 L101.40,429.10 Z" fill="#e8141a"/>
<path d="M104.20,433.50 H108.80 L106.50,429.50 Z" fill="#e8141a"/>
<path d="M109.10,433.50 H113.70 L111.40,429.50 Z" fill="#e8141a"/>
<path d="M114.20,431.60 H118.80 L116.50,427.60 Z" fill="#e8141a"/>
<line x1="95.80" y1="425.40" x2="117.20" y2="425.40" stroke="#111" stroke-width="0.9"/>
<line x1="95.80" y1="427.40" x2="117.20" y2="427.40" stroke="#111" stroke-width="0.9"/>
<line x1="106.50" y1="425.40" x2="106.50" y2="427.40" stroke="#111" stroke-width="0.9"/>
<line x1="85.50" y1="426.40" x2="127.50" y2="426.40" stroke="#1a1a1a" stroke-width="0.9"/>
<line x1="165.50" y1="349.60" x2="165.50" y2="435.95" stroke="#111" stroke-width="0.9"/>
<line x1="162.70" y1="435.50" x2="165.50" y2="435.50" stroke="#111" stroke-width="0.9"/>
<text x="161.70" y="438.12" font-size="6.3" font-weight="bold" text-anchor="end" fill="#000"  textLength="2.98" lengthAdjust="spacingAndGlyphs">0</text>
<line x1="162.70" y1="414.15" x2="165.50" y2="414.15" stroke="#111" stroke-width="0.9"/>
<text x="161.70" y="416.77" font-size="6.3" font-weight="bold" text-anchor="end" fill="#000"  textLength="11.91" lengthAdjust="spacingAndGlyphs">2000</text>
<line x1="162.70" y1="392.80" x2="165.50" y2="392.80" stroke="#111" stroke-width="0.9"/>
<text x="161.70" y="395.42" font-size="6.3" font-weight="bold" text-anchor="end" fill="#000"  textLength="11.91" lengthAdjust="spacingAndGlyphs">4000</text>
<line x1="162.70" y1="371.45" x2="165.50" y2="371.45" stroke="#111" stroke-width="0.9"/>
<text x="161.70" y="374.07" font-size="6.3" font-weight="bold" text-anchor="end" fill="#000"  textLength="11.91" lengthAdjust="spacingAndGlyphs">6000</text>
<line x1="162.70" y1="350.10" x2="165.50" y2="350.10" stroke="#111" stroke-width="0.9"/>
<text x="161.70" y="352.72" font-size="6.3" font-weight="bold" text-anchor="end" fill="#000"  textLength="11.91" lengthAdjust="spacingAndGlyphs">8000</text>
<line x1="165.05" y1="435.50" x2="277.00" y2="435.50" stroke="#111" stroke-width="0.9"/>
<line x1="196.70" y1="435.50" x2="196.70" y2="437.70" stroke="#111" stroke-width="0.8"/>
<line x1="248.60" y1="435.50" x2="248.60" y2="437.70" stroke="#111" stroke-width="0.8"/>
<text x="183.55" y="446.00" font-size="7.3" text-anchor="start" fill="#000" >FS/F0/</text>
<g fill="none" stroke="#858585" stroke-width="0.7"><circle cx="207.65" cy="442.74" r="1.78"/><path d="M207.65,444.52 V447.60 M206.22,446.06 H209.08"/></g>
<text x="235.25" y="446.00" font-size="7.3" text-anchor="start" fill="#000" >FD/F0/</text>
<g fill="none" stroke="#858585" stroke-width="0.7"><circle cx="259.75" cy="442.74" r="1.78"/><path d="M259.75,444.52 V447.60 M258.33,446.06 H261.18"/></g>
<text x="0" y="0" font-size="6.3" font-weight="bold" text-anchor="middle" transform="translate(146.60,389.20) rotate(-90)">FA level (ng/ml)</text>
<path d="M196.70,351.90 V346.50 H248.60 V351.90" fill="none" stroke="#554c4c" stroke-width="1"/>
<text x="217.60" y="347.40" font-size="10.2" font-weight="bold" text-anchor="start" fill="#453d3d" letter-spacing="1.2" stroke="#453d3d" stroke-width="0.1">**</text>
<path d="M184.70,358.10 H189.30 L187.00,362.10 Z" fill="#1a4aa0"/>
<path d="M189.70,359.60 H194.30 L192.00,363.60 Z" fill="#1a4aa0"/>
<path d="M194.40,361.50 H199.00 L196.70,365.50 Z" fill="#1a4aa0"/>
<path d="M199.50,359.10 H204.10 L201.80,363.10 Z" fill="#1a4aa0"/>
<path d="M179.70,363.90 H184.30 L182.00,367.90 Z" fill="#1a4aa0"/>
<path d="M209.70,364.90 H214.30 L212.00,368.90 Z" fill="#1a4aa0"/>
<path d="M184.70,366.80 H189.30 L187.00,370.80 Z" fill="#1a4aa0"/>
<path d="M189.70,367.30 H194.30 L192.00,371.30 Z" fill="#1a4aa0"/>
<path d="M194.40,367.50 H199.00 L196.70,371.50 Z" fill="#1a4aa0"/>
<path d="M199.50,367.30 H204.10 L201.80,371.30 Z" fill="#1a4aa0"/>
<path d="M204.60,367.30 H209.20 L206.90,371.30 Z" fill="#1a4aa0"/>
<path d="M184.70,370.10 H189.30 L187.00,374.10 Z" fill="#1a4aa0"/>
<path d="M204.60,369.70 H209.20 L206.90,373.70 Z" fill="#1a4aa0"/>
<path d="M189.70,372.60 H194.30 L192.00,376.60 Z" fill="#1a4aa0"/>
<path d="M194.40,374.10 H199.00 L196.70,378.10 Z" fill="#1a4aa0"/>
<path d="M199.50,371.90 H204.10 L201.80,375.90 Z" fill="#1a4aa0"/>
<path d="M194.40,381.70 H199.00 L196.70,385.70 Z" fill="#1a4aa0"/>
<line x1="186.00" y1="367.50" x2="207.40" y2="367.50" stroke="#111" stroke-width="0.9"/>
<line x1="186.00" y1="370.10" x2="207.40" y2="370.10" stroke="#111" stroke-width="0.9"/>
<line x1="196.70" y1="367.50" x2="196.70" y2="370.10" stroke="#111" stroke-width="0.9"/>
<line x1="175.70" y1="368.80" x2="217.70" y2="368.80" stroke="#1a1a1a" stroke-width="0.9"/>
<path d="M236.30,396.00 H240.90 L238.60,392.00 Z" fill="#e8141a"/>
<path d="M241.30,398.30 H245.90 L243.60,394.30 Z" fill="#e8141a"/>
<path d="M246.30,399.30 H250.90 L248.60,395.30 Z" fill="#e8141a"/>
<path d="M251.20,397.40 H255.80 L253.50,393.40 Z" fill="#e8141a"/>
<path d="M256.10,394.20 H260.70 L258.40,390.20 Z" fill="#e8141a"/>
<path d="M236.30,402.20 H240.90 L238.60,398.20 Z" fill="#e8141a"/>
<path d="M241.30,404.70 H245.90 L243.60,400.70 Z" fill="#e8141a"/>
<path d="M246.30,404.40 H250.90 L248.60,400.40 Z" fill="#e8141a"/>
<path d="M251.20,405.80 H255.80 L253.50,401.80 Z" fill="#e8141a"/>
<path d="M256.10,403.70 H260.70 L258.40,399.70 Z" fill="#e8141a"/>
<path d="M241.30,409.80 H245.90 L243.60,405.80 Z" fill="#e8141a"/>
<path d="M246.30,411.90 H250.90 L248.60,407.90 Z" fill="#e8141a"/>
<path d="M251.20,414.50 H255.80 L253.50,410.50 Z" fill="#e8141a"/>
<path d="M246.30,417.90 H250.90 L248.60,413.90 Z" fill="#e8141a"/>
<line x1="237.90" y1="400.60" x2="259.30" y2="400.60" stroke="#111" stroke-width="0.9"/>
<line x1="237.90" y1="404.20" x2="259.30" y2="404.20" stroke="#111" stroke-width="0.9"/>
<line x1="248.60" y1="400.60" x2="248.60" y2="404.20" stroke="#111" stroke-width="0.9"/>
<line x1="227.60" y1="402.40" x2="269.60" y2="402.40" stroke="#1a1a1a" stroke-width="0.9"/>
<line x1="302.50" y1="349.60" x2="302.50" y2="435.95" stroke="#111" stroke-width="0.9"/>
<line x1="299.70" y1="435.50" x2="302.50" y2="435.50" stroke="#111" stroke-width="0.9"/>
<text x="297.50" y="438.05" font-size="6.1" font-weight="bold" text-anchor="end" fill="#000"  textLength="3.26" lengthAdjust="spacingAndGlyphs">0</text>
<line x1="299.70" y1="414.15" x2="302.50" y2="414.15" stroke="#111" stroke-width="0.9"/>
<text x="297.50" y="416.70" font-size="6.1" font-weight="bold" text-anchor="end" fill="#000"  textLength="6.51" lengthAdjust="spacingAndGlyphs">10</text>
<line x1="299.70" y1="392.80" x2="302.50" y2="392.80" stroke="#111" stroke-width="0.9"/>
<text x="297.50" y="395.35" font-size="6.1" font-weight="bold" text-anchor="end" fill="#000"  textLength="6.51" lengthAdjust="spacingAndGlyphs">20</text>
<line x1="299.70" y1="371.45" x2="302.50" y2="371.45" stroke="#111" stroke-width="0.9"/>
<text x="297.50" y="374.00" font-size="6.1" font-weight="bold" text-anchor="end" fill="#000"  textLength="6.51" lengthAdjust="spacingAndGlyphs">30</text>
<line x1="299.70" y1="350.10" x2="302.50" y2="350.10" stroke="#111" stroke-width="0.9"/>
<text x="297.50" y="352.65" font-size="6.1" font-weight="bold" text-anchor="end" fill="#000"  textLength="6.51" lengthAdjust="spacingAndGlyphs">40</text>
<line x1="302.05" y1="435.50" x2="414.50" y2="435.50" stroke="#111" stroke-width="0.9"/>
<line x1="331.10" y1="435.50" x2="331.10" y2="437.70" stroke="#111" stroke-width="0.8"/>
<line x1="382.80" y1="435.50" x2="382.80" y2="437.70" stroke="#111" stroke-width="0.8"/>
<text x="317.95" y="446.00" font-size="7.3" text-anchor="start" fill="#000" >FS/F0/</text>
<g fill="none" stroke="#858585" stroke-width="0.7"><circle cx="342.05" cy="442.74" r="1.78"/><path d="M342.05,444.52 V447.60 M340.62,446.06 H343.48"/></g>
<text x="369.45" y="446.00" font-size="7.3" text-anchor="start" fill="#000" >FD/F0/</text>
<g fill="none" stroke="#858585" stroke-width="0.7"><circle cx="393.95" cy="442.74" r="1.78"/><path d="M393.95,444.52 V447.60 M392.53,446.06 H395.38"/></g>
<text x="0" y="0" font-size="6.3" font-weight="bold" text-anchor="middle" transform="translate(288.80,389.20) rotate(-90)">HCY level (μmol/L)</text>
<path d="M331.10,351.90 V346.50 H382.80 V351.90" fill="none" stroke="#554c4c" stroke-width="1"/>
<text x="351.90" y="347.40" font-size="10.2" font-weight="bold" text-anchor="start" fill="#453d3d" letter-spacing="1.2" stroke="#453d3d" stroke-width="0.1">**</text>
<path d="M318.80,392.80 H323.40 L321.10,396.80 Z" fill="#1a4aa0"/>
<path d="M323.80,394.60 H328.40 L326.10,398.60 Z" fill="#1a4aa0"/>
<path d="M328.80,395.20 H333.40 L331.10,399.20 Z" fill="#1a4aa0"/>
<path d="M333.70,394.00 H338.30 L336.00,398.00 Z" fill="#1a4aa0"/>
<path d="M323.80,399.20 H328.40 L326.10,403.20 Z" fill="#1a4aa0"/>
<path d="M333.70,401.20 H338.30 L336.00,405.20 Z" fill="#1a4aa0"/>
<path d="M328.80,403.00 H333.40 L331.10,407.00 Z" fill="#1a4aa0"/>
<path d="M313.70,405.20 H318.30 L316.00,409.20 Z" fill="#1a4aa0"/>
<path d="M318.80,406.00 H323.40 L321.10,410.00 Z" fill="#1a4aa0"/>
<path d="M323.80,408.50 H328.40 L326.10,412.50 Z" fill="#1a4aa0"/>
<path d="M328.80,409.10 H333.40 L331.10,413.10 Z" fill="#1a4aa0"/>
<path d="M333.70,407.90 H338.30 L336.00,411.90 Z" fill="#1a4aa0"/>
<path d="M338.90,406.00 H343.50 L341.20,410.00 Z" fill="#1a4aa0"/>
<path d="M338.90,411.20 H343.50 L341.20,415.20 Z" fill="#1a4aa0"/>
<path d="M323.80,413.30 H328.40 L326.10,417.30 Z" fill="#1a4aa0"/>
<path d="M328.80,415.30 H333.40 L331.10,419.30 Z" fill="#1a4aa0"/>
<path d="M333.70,413.90 H338.30 L336.00,417.90 Z" fill="#1a4aa0"/>
<line x1="320.40" y1="404.30" x2="341.80" y2="404.30" stroke="#111" stroke-width="0.9"/>
<line x1="320.40" y1="407.70" x2="341.80" y2="407.70" stroke="#111" stroke-width="0.9"/>
<line x1="331.10" y1="404.30" x2="331.10" y2="407.70" stroke="#111" stroke-width="0.9"/>
<line x1="310.10" y1="406.40" x2="352.10" y2="406.40" stroke="#1a1a1a" stroke-width="0.9"/>
<path d="M380.50,367.40 H385.10 L382.80,363.40 Z" fill="#e8141a"/>
<path d="M370.30,376.10 H374.90 L372.60,372.10 Z" fill="#e8141a"/>
<path d="M375.60,378.40 H380.20 L377.90,374.40 Z" fill="#e8141a"/>
<path d="M380.50,379.80 H385.10 L382.80,375.80 Z" fill="#e8141a"/>
<path d="M385.50,378.40 H390.10 L387.80,374.40 Z" fill="#e8141a"/>
<path d="M375.60,381.60 H380.20 L377.90,377.60 Z" fill="#e8141a"/>
<path d="M380.50,385.30 H385.10 L382.80,381.30 Z" fill="#e8141a"/>
<path d="M385.50,384.80 H390.10 L387.80,380.80 Z" fill="#e8141a"/>
<path d="M385.50,391.30 H390.10 L387.80,387.30 Z" fill="#e8141a"/>
<path d="M375.60,392.50 H380.20 L377.90,388.50 Z" fill="#e8141a"/>
<path d="M375.60,395.80 H380.20 L377.90,391.80 Z" fill="#e8141a"/>
<path d="M380.50,395.40 H385.10 L382.80,391.40 Z" fill="#e8141a"/>
<path d="M380.50,400.80 H385.10 L382.80,396.80 Z" fill="#e8141a"/>
<path d="M385.50,400.50 H390.10 L387.80,396.50 Z" fill="#e8141a"/>
<line x1="372.10" y1="381.50" x2="393.50" y2="381.50" stroke="#111" stroke-width="0.9"/>
<line x1="372.10" y1="387.20" x2="393.50" y2="387.20" stroke="#111" stroke-width="0.9"/>
<line x1="382.80" y1="381.50" x2="382.80" y2="387.20" stroke="#111" stroke-width="0.9"/>
<line x1="361.80" y1="384.40" x2="403.80" y2="384.40" stroke="#1a1a1a" stroke-width="0.9"/>
<line x1="25.50" y1="469.60" x2="25.50" y2="555.95" stroke="#111" stroke-width="0.9"/>
<line x1="22.70" y1="555.50" x2="25.50" y2="555.50" stroke="#111" stroke-width="0.9"/>
<text x="21.70" y="558.12" font-size="6.3" font-weight="bold" text-anchor="end" fill="#000"  textLength="3.33" lengthAdjust="spacingAndGlyphs">0</text>
<line x1="22.70" y1="527.03" x2="25.50" y2="527.03" stroke="#111" stroke-width="0.9"/>
<text x="21.70" y="529.65" font-size="6.3" font-weight="bold" text-anchor="end" fill="#000"  textLength="9.99" lengthAdjust="spacingAndGlyphs">100</text>
<line x1="22.70" y1="498.57" x2="25.50" y2="498.57" stroke="#111" stroke-width="0.9"/>
<text x="21.70" y="501.18" font-size="6.3" font-weight="bold" text-anchor="end" fill="#000"  textLength="9.99" lengthAdjust="spacingAndGlyphs">200</text>
<line x1="22.70" y1="470.10" x2="25.50" y2="470.10" stroke="#111" stroke-width="0.9"/>
<text x="21.70" y="472.72" font-size="6.3" font-weight="bold" text-anchor="end" fill="#000"  textLength="9.99" lengthAdjust="spacingAndGlyphs">300</text>
<line x1="25.05" y1="555.50" x2="136.00" y2="555.50" stroke="#111" stroke-width="0.9"/>
<line x1="54.80" y1="555.50" x2="54.80" y2="557.70" stroke="#111" stroke-width="0.8"/>
<line x1="106.50" y1="555.50" x2="106.50" y2="557.70" stroke="#111" stroke-width="0.8"/>
<text x="40.64" y="566.00" font-size="7.3" text-anchor="start" fill="#000" >Ctrl/F1/</text>
<g fill="none" stroke="#858585" stroke-width="0.7"><circle cx="66.34" cy="565.62" r="1.53"/><path d="M67.42,564.55 L68.61,561.35 M67.21,561.35 H68.61 V562.75"/></g>
<text x="95.58" y="566.00" font-size="7.3" text-anchor="start" fill="#000" >B/F1/</text>
<g fill="none" stroke="#858585" stroke-width="0.7"><circle cx="114.80" cy="565.62" r="1.53"/><path d="M115.87,564.55 L117.07,561.35 M115.67,561.35 H117.07 V562.75"/></g>
<text x="0" y="0" font-size="6.3" font-weight="bold" text-anchor="middle" transform="translate(8.10,507.40) rotate(-90)">FA level (ng/ml)</text>
<path d="M54.80,471.90 V466.50 H106.50 V471.90" fill="none" stroke="#554c4c" stroke-width="1"/>
<text x="75.60" y="467.40" font-size="10.2" font-weight="bold" text-anchor="start" fill="#453d3d" letter-spacing="1.2" stroke="#453d3d" stroke-width="0.1">**</text>
<path d="M41.90,483.80 H46.50 L44.20,487.80 Z" fill="#1a4aa0"/>
<path d="M47.30,486.50 H51.90 L49.60,490.50 Z" fill="#1a4aa0"/>
<path d="M52.60,487.50 H57.20 L54.90,491.50 Z" fill="#1a4aa0"/>
<path d="M57.80,485.00 H62.40 L60.10,489.00 Z" fill="#1a4aa0"/>
<path d="M52.60,495.90 H57.20 L54.90,499.90 Z" fill="#1a4aa0"/>
<path d="M52.60,502.00 H57.20 L54.90,506.00 Z" fill="#1a4aa0"/>
<path d="M47.30,503.40 H51.90 L49.60,507.40 Z" fill="#1a4aa0"/>
<path d="M57.80,504.10 H62.40 L60.10,508.10 Z" fill="#1a4aa0"/>
<path d="M52.60,507.30 H57.20 L54.90,511.30 Z" fill="#1a4aa0"/>
<path d="M57.80,508.50 H62.40 L60.10,512.50 Z" fill="#1a4aa0"/>
<path d="M47.30,512.10 H51.90 L49.60,516.10 Z" fill="#1a4aa0"/>
<path d="M52.60,512.80 H57.20 L54.90,516.80 Z" fill="#1a4aa0"/>
<path d="M52.60,525.90 H57.20 L54.90,529.90 Z" fill="#1a4aa0"/>
<line x1="44.10" y1="499.30" x2="65.50" y2="499.30" stroke="#111" stroke-width="0.9"/>
<line x1="44.10" y1="506.20" x2="65.50" y2="506.20" stroke="#111" stroke-width="0.9"/>
<line x1="54.80" y1="499.30" x2="54.80" y2="506.20" stroke="#111" stroke-width="0.9"/>
<line x1="33.80" y1="503.00" x2="75.80" y2="503.00" stroke="#1a1a1a" stroke-width="0.9"/>
<rect x="104.75" y="528.35" width="3.5" height="3.5" fill="#e8141a"/>
<rect x="99.65" y="538.15" width="3.5" height="3.5" fill="#e8141a"/>
<rect x="110.15" y="536.85" width="3.5" height="3.5" fill="#e8141a"/>
<rect x="104.75" y="540.75" width="3.5" height="3.5" fill="#e8141a"/>
<rect x="94.65" y="541.75" width="3.5" height="3.5" fill="#e8141a"/>
<rect x="99.65" y="543.15" width="3.5" height="3.5" fill="#e8141a"/>
<rect x="104.75" y="544.05" width="3.5" height="3.5" fill="#e8141a"/>
<rect x="110.15" y="543.65" width="3.5" height="3.5" fill="#e8141a"/>
<rect x="113.05" y="542.15" width="3.5" height="3.5" fill="#e8141a"/>
<rect x="89.15" y="544.75" width="3.5" height="3.5" fill="#e8141a"/>
<rect x="94.15" y="545.45" width="3.5" height="3.5" fill="#e8141a"/>
<rect x="99.65" y="546.05" width="3.5" height="3.5" fill="#e8141a"/>
<rect x="104.75" y="547.65" width="3.5" height="3.5" fill="#e8141a"/>
<rect x="110.15" y="546.95" width="3.5" height="3.5" fill="#e8141a"/>
<rect x="115.25" y="545.75" width="3.5" height="3.5" fill="#e8141a"/>
<rect x="120.55" y="544.75" width="3.5" height="3.5" fill="#e8141a"/>
<line x1="95.80" y1="543.00" x2="117.20" y2="543.00" stroke="#111" stroke-width="0.9"/>
<line x1="95.80" y1="545.50" x2="117.20" y2="545.50" stroke="#111" stroke-width="0.9"/>
<line x1="106.50" y1="543.00" x2="106.50" y2="545.50" stroke="#111" stroke-width="0.9"/>
<line x1="85.50" y1="544.20" x2="127.50" y2="544.20" stroke="#1a1a1a" stroke-width="0.9"/>
<line x1="165.50" y1="469.60" x2="165.50" y2="555.95" stroke="#111" stroke-width="0.9"/>
<line x1="162.70" y1="555.50" x2="165.50" y2="555.50" stroke="#111" stroke-width="0.9"/>
<text x="161.70" y="558.12" font-size="6.3" font-weight="bold" text-anchor="end" fill="#000"  textLength="2.98" lengthAdjust="spacingAndGlyphs">0</text>
<line x1="162.70" y1="534.15" x2="165.50" y2="534.15" stroke="#111" stroke-width="0.9"/>
<text x="161.70" y="536.77" font-size="6.3" font-weight="bold" text-anchor="end" fill="#000"  textLength="11.91" lengthAdjust="spacingAndGlyphs">2000</text>
<line x1="162.70" y1="512.80" x2="165.50" y2="512.80" stroke="#111" stroke-width="0.9"/>
<text x="161.70" y="515.42" font-size="6.3" font-weight="bold" text-anchor="end" fill="#000"  textLength="11.91" lengthAdjust="spacingAndGlyphs">4000</text>
<line x1="162.70" y1="491.45" x2="165.50" y2="491.45" stroke="#111" stroke-width="0.9"/>
<text x="161.70" y="494.07" font-size="6.3" font-weight="bold" text-anchor="end" fill="#000"  textLength="11.91" lengthAdjust="spacingAndGlyphs">6000</text>
<line x1="162.70" y1="470.10" x2="165.50" y2="470.10" stroke="#111" stroke-width="0.9"/>
<text x="161.70" y="472.72" font-size="6.3" font-weight="bold" text-anchor="end" fill="#000"  textLength="11.91" lengthAdjust="spacingAndGlyphs">8000</text>
<line x1="165.05" y1="555.50" x2="277.00" y2="555.50" stroke="#111" stroke-width="0.9"/>
<line x1="196.70" y1="555.50" x2="196.70" y2="557.70" stroke="#111" stroke-width="0.8"/>
<line x1="248.60" y1="555.50" x2="248.60" y2="557.70" stroke="#111" stroke-width="0.8"/>
<text x="182.54" y="566.00" font-size="7.3" text-anchor="start" fill="#000" >Ctrl/F1/</text>
<g fill="none" stroke="#858585" stroke-width="0.7"><circle cx="208.24" cy="565.62" r="1.53"/><path d="M209.32,564.55 L210.51,561.35 M209.11,561.35 H210.51 V562.75"/></g>
<text x="237.68" y="566.00" font-size="7.3" text-anchor="start" fill="#000" >B/F1/</text>
<g fill="none" stroke="#858585" stroke-width="0.7"><circle cx="256.90" cy="565.62" r="1.53"/><path d="M257.97,564.55 L259.17,561.35 M257.77,561.35 H259.17 V562.75"/></g>
<text x="0" y="0" font-size="6.3" font-weight="bold" text-anchor="middle" transform="translate(146.60,507.40) rotate(-90)">FA level (ng/ml)</text>
<path d="M196.70,471.90 V466.50 H248.60 V471.90" fill="none" stroke="#554c4c" stroke-width="1"/>
<text x="217.60" y="467.40" font-size="10.2" font-weight="bold" text-anchor="start" fill="#453d3d" letter-spacing="1.2" stroke="#453d3d" stroke-width="0.1">**</text>
<path d="M194.40,485.20 H199.00 L196.70,489.20 Z" fill="#1a4aa0"/>
<path d="M200.20,489.90 H204.80 L202.50,493.90 Z" fill="#1a4aa0"/>
<path d="M194.40,492.00 H199.00 L196.70,496.00 Z" fill="#1a4aa0"/>
<path d="M178.20,493.20 H182.80 L180.50,497.20 Z" fill="#1a4aa0"/>
<path d="M205.70,493.20 H210.30 L208.00,497.20 Z" fill="#1a4aa0"/>
<path d="M183.60,496.10 H188.20 L185.90,500.10 Z" fill="#1a4aa0"/>
<path d="M189.10,496.10 H193.70 L191.40,500.10 Z" fill="#1a4aa0"/>
<path d="M194.40,496.80 H199.00 L196.70,500.80 Z" fill="#1a4aa0"/>
<path d="M200.20,496.10 H204.80 L202.50,500.10 Z" fill="#1a4aa0"/>
<path d="M205.70,497.50 H210.30 L208.00,501.50 Z" fill="#1a4aa0"/>
<path d="M189.10,499.30 H193.70 L191.40,503.30 Z" fill="#1a4aa0"/>
<path d="M200.20,499.70 H204.80 L202.50,503.70 Z" fill="#1a4aa0"/>
<path d="M194.40,502.90 H199.00 L196.70,506.90 Z" fill="#1a4aa0"/>
<line x1="186.00" y1="496.00" x2="207.40" y2="496.00" stroke="#111" stroke-width="0.9"/>
<line x1="186.00" y1="498.40" x2="207.40" y2="498.40" stroke="#111" stroke-width="0.9"/>
<line x1="196.70" y1="496.00" x2="196.70" y2="498.40" stroke="#111" stroke-width="0.9"/>
<line x1="175.70" y1="497.10" x2="217.70" y2="497.10" stroke="#1a1a1a" stroke-width="0.9"/>
<rect x="246.85" y="511.25" width="3.5" height="3.5" fill="#e8141a"/>
<rect x="252.05" y="517.05" width="3.5" height="3.5" fill="#e8141a"/>
<rect x="246.85" y="520.65" width="3.5" height="3.5" fill="#e8141a"/>
<rect x="230.25" y="525.25" width="3.5" height="3.5" fill="#e8141a"/>
<rect x="235.65" y="526.15" width="3.5" height="3.5" fill="#e8141a"/>
<rect x="241.15" y="526.45" width="3.5" height="3.5" fill="#e8141a"/>
<rect x="246.85" y="526.45" width="3.5" height="3.5" fill="#e8141a"/>
<rect x="252.05" y="526.05" width="3.5" height="3.5" fill="#e8141a"/>
<rect x="257.35" y="525.75" width="3.5" height="3.5" fill="#e8141a"/>
<rect x="235.65" y="529.65" width="3.5" height="3.5" fill="#e8141a"/>
<rect x="241.15" y="530.05" width="3.5" height="3.5" fill="#e8141a"/>
<rect x="246.85" y="529.05" width="3.5" height="3.5" fill="#e8141a"/>
<rect x="252.05" y="530.05" width="3.5" height="3.5" fill="#e8141a"/>
<rect x="257.35" y="529.65" width="3.5" height="3.5" fill="#e8141a"/>
<rect x="246.85" y="534.15" width="3.5" height="3.5" fill="#e8141a"/>
<line x1="237.90" y1="526.40" x2="259.30" y2="526.40" stroke="#111" stroke-width="0.9"/>
<line x1="237.90" y1="529.40" x2="259.30" y2="529.40" stroke="#111" stroke-width="0.9"/>
<line x1="248.60" y1="526.40" x2="248.60" y2="529.40" stroke="#111" stroke-width="0.9"/>
<line x1="227.60" y1="527.80" x2="269.60" y2="527.80" stroke="#1a1a1a" stroke-width="0.9"/>
<line x1="302.50" y1="469.60" x2="302.50" y2="555.95" stroke="#111" stroke-width="0.9"/>
<line x1="299.70" y1="555.50" x2="302.50" y2="555.50" stroke="#111" stroke-width="0.9"/>
<text x="297.50" y="558.05" font-size="6.1" font-weight="bold" text-anchor="end" fill="#000"  textLength="3.26" lengthAdjust="spacingAndGlyphs">0</text>
<line x1="299.70" y1="538.42" x2="302.50" y2="538.42" stroke="#111" stroke-width="0.9"/>
<text x="297.50" y="540.97" font-size="6.1" font-weight="bold" text-anchor="end" fill="#000"  textLength="6.51" lengthAdjust="spacingAndGlyphs">10</text>
<line x1="299.70" y1="521.34" x2="302.50" y2="521.34" stroke="#111" stroke-width="0.9"/>
<text x="297.50" y="523.89" font-size="6.1" font-weight="bold" text-anchor="end" fill="#000"  textLength="6.51" lengthAdjust="spacingAndGlyphs">20</text>
<line x1="299.70" y1="504.26" x2="302.50" y2="504.26" stroke="#111" stroke-width="0.9"/>
<text x="297.50" y="506.81" font-size="6.1" font-weight="bold" text-anchor="end" fill="#000"  textLength="6.51" lengthAdjust="spacingAndGlyphs">30</text>
<line x1="299.70" y1="487.18" x2="302.50" y2="487.18" stroke="#111" stroke-width="0.9"/>
<text x="297.50" y="489.73" font-size="6.1" font-weight="bold" text-anchor="end" fill="#000"  textLength="6.51" lengthAdjust="spacingAndGlyphs">40</text>
<line x1="299.70" y1="470.10" x2="302.50" y2="470.10" stroke="#111" stroke-width="0.9"/>
<text x="297.50" y="472.65" font-size="6.1" font-weight="bold" text-anchor="end" fill="#000"  textLength="6.51" lengthAdjust="spacingAndGlyphs">50</text>
<line x1="302.05" y1="555.50" x2="414.50" y2="555.50" stroke="#111" stroke-width="0.9"/>
<line x1="331.10" y1="555.50" x2="331.10" y2="557.70" stroke="#111" stroke-width="0.8"/>
<line x1="382.80" y1="555.50" x2="382.80" y2="557.70" stroke="#111" stroke-width="0.8"/>
<text x="316.94" y="566.00" font-size="7.3" text-anchor="start" fill="#000" >Ctrl/F1/</text>
<g fill="none" stroke="#858585" stroke-width="0.7"><circle cx="342.64" cy="565.62" r="1.53"/><path d="M343.72,564.55 L344.91,561.35 M343.51,561.35 H344.91 V562.75"/></g>
<text x="371.88" y="566.00" font-size="7.3" text-anchor="start" fill="#000" >B/F1/</text>
<g fill="none" stroke="#858585" stroke-width="0.7"><circle cx="391.10" cy="565.62" r="1.53"/><path d="M392.17,564.55 L393.37,561.35 M391.97,561.35 H393.37 V562.75"/></g>
<text x="0" y="0" font-size="6.3" font-weight="bold" text-anchor="middle" transform="translate(288.80,507.40) rotate(-90)">HCY level (μmol/L)</text>
<path d="M331.10,471.90 V466.50 H382.80 V471.90" fill="none" stroke="#554c4c" stroke-width="1"/>
<text x="351.90" y="467.40" font-size="10.2" font-weight="bold" text-anchor="start" fill="#453d3d" letter-spacing="1.2" stroke="#453d3d" stroke-width="0.1">**</text>
<path d="M313.70,534.60 H318.30 L316.00,538.60 Z" fill="#1a4aa0"/>
<path d="M316.20,533.10 H320.80 L318.50,537.10 Z" fill="#1a4aa0"/>
<path d="M318.80,536.40 H323.40 L321.10,540.40 Z" fill="#1a4aa0"/>
<path d="M321.60,533.10 H326.20 L323.90,537.10 Z" fill="#1a4aa0"/>
<path d="M323.80,536.70 H328.40 L326.10,540.70 Z" fill="#1a4aa0"/>
<path d="M326.40,535.80 H331.00 L328.70,539.80 Z" fill="#1a4aa0"/>
<path d="M328.80,537.20 H333.40 L331.10,541.20 Z" fill="#1a4aa0"/>
<path d="M331.30,536.70 H335.90 L333.60,540.70 Z" fill="#1a4aa0"/>
<path d="M333.70,537.00 H338.30 L336.00,541.00 Z" fill="#1a4aa0"/>
<path d="M336.70,533.60 H341.30 L339.00,537.60 Z" fill="#1a4aa0"/>
<path d="M338.90,536.70 H343.50 L341.20,540.70 Z" fill="#1a4aa0"/>
<path d="M342.10,533.40 H346.70 L344.40,537.40 Z" fill="#1a4aa0"/>
<path d="M343.70,536.40 H348.30 L346.00,540.40 Z" fill="#1a4aa0"/>
<line x1="320.40" y1="536.50" x2="341.80" y2="536.50" stroke="#111" stroke-width="0.9"/>
<line x1="320.40" y1="537.70" x2="341.80" y2="537.70" stroke="#111" stroke-width="0.9"/>
<line x1="331.10" y1="536.50" x2="331.10" y2="537.70" stroke="#111" stroke-width="0.9"/>
<line x1="310.10" y1="537.10" x2="352.10" y2="537.10" stroke="#1a1a1a" stroke-width="0.9"/>
<rect x="381.05" y="481.65" width="3.5" height="3.5" fill="#e8141a"/>
<rect x="386.05" y="497.15" width="3.5" height="3.5" fill="#e8141a"/>
<rect x="381.05" y="501.95" width="3.5" height="3.5" fill="#e8141a"/>
<rect x="376.15" y="512.05" width="3.5" height="3.5" fill="#e8141a"/>
<rect x="381.05" y="513.15" width="3.5" height="3.5" fill="#e8141a"/>
<rect x="376.15" y="516.05" width="3.5" height="3.5" fill="#e8141a"/>
<rect x="381.05" y="516.05" width="3.5" height="3.5" fill="#e8141a"/>
<rect x="386.05" y="516.75" width="3.5" height="3.5" fill="#e8141a"/>
<rect x="370.85" y="521.05" width="3.5" height="3.5" fill="#e8141a"/>
<rect x="376.15" y="522.85" width="3.5" height="3.5" fill="#e8141a"/>
<rect x="381.05" y="519.35" width="3.5" height="3.5" fill="#e8141a"/>
<rect x="386.05" y="521.85" width="3.5" height="3.5" fill="#e8141a"/>
<rect x="381.05" y="524.65" width="3.5" height="3.5" fill="#e8141a"/>
<rect x="386.05" y="527.55" width="3.5" height="3.5" fill="#e8141a"/>
<rect x="381.05" y="530.95" width="3.5" height="3.5" fill="#e8141a"/>
<line x1="372.10" y1="513.40" x2="393.50" y2="513.40" stroke="#111" stroke-width="0.9"/>
<line x1="372.10" y1="520.20" x2="393.50" y2="520.20" stroke="#111" stroke-width="0.9"/>
<line x1="382.80" y1="513.40" x2="382.80" y2="520.20" stroke="#111" stroke-width="0.9"/>
<line x1="361.80" y1="516.60" x2="403.80" y2="516.60" stroke="#1a1a1a" stroke-width="0.9"/>
<line x1="25.50" y1="587.80" x2="25.50" y2="673.95" stroke="#111" stroke-width="0.9"/>
<line x1="22.70" y1="673.50" x2="25.50" y2="673.50" stroke="#111" stroke-width="0.9"/>
<text x="21.70" y="676.12" font-size="6.3" font-weight="bold" text-anchor="end" fill="#000"  textLength="3.33" lengthAdjust="spacingAndGlyphs">0</text>
<line x1="22.70" y1="652.20" x2="25.50" y2="652.20" stroke="#111" stroke-width="0.9"/>
<text x="21.70" y="654.82" font-size="6.3" font-weight="bold" text-anchor="end" fill="#000"  textLength="9.99" lengthAdjust="spacingAndGlyphs">100</text>
<line x1="22.70" y1="630.90" x2="25.50" y2="630.90" stroke="#111" stroke-width="0.9"/>
<text x="21.70" y="633.52" font-size="6.3" font-weight="bold" text-anchor="end" fill="#000"  textLength="9.99" lengthAdjust="spacingAndGlyphs">200</text>
<line x1="22.70" y1="609.60" x2="25.50" y2="609.60" stroke="#111" stroke-width="0.9"/>
<text x="21.70" y="612.22" font-size="6.3" font-weight="bold" text-anchor="end" fill="#000"  textLength="9.99" lengthAdjust="spacingAndGlyphs">300</text>
<line x1="22.70" y1="588.30" x2="25.50" y2="588.30" stroke="#111" stroke-width="0.9"/>
<text x="21.70" y="590.92" font-size="6.3" font-weight="bold" text-anchor="end" fill="#000"  textLength="9.99" lengthAdjust="spacingAndGlyphs">400</text>
<line x1="25.05" y1="673.50" x2="136.00" y2="673.50" stroke="#111" stroke-width="0.9"/>
<line x1="54.80" y1="673.50" x2="54.80" y2="675.70" stroke="#111" stroke-width="0.8"/>
<line x1="106.50" y1="673.50" x2="106.50" y2="675.70" stroke="#111" stroke-width="0.8"/>
<text x="40.64" y="684.00" font-size="7.3" text-anchor="start" fill="#000" >Ctrl/F1/</text>
<g fill="none" stroke="#858585" stroke-width="0.7"><circle cx="66.76" cy="680.74" r="1.78"/><path d="M66.76,682.52 V685.60 M65.34,684.06 H68.19"/></g>
<text x="94.88" y="684.00" font-size="7.3" text-anchor="start" fill="#000" >B'/F1/</text>
<g fill="none" stroke="#858585" stroke-width="0.7"><circle cx="115.92" cy="680.74" r="1.78"/><path d="M115.92,682.52 V685.60 M114.49,684.06 H117.35"/></g>
<text x="0" y="0" font-size="6.3" font-weight="bold" text-anchor="middle" transform="translate(8.10,625.60) rotate(-90)">FA level (ng/ml)</text>
<path d="M54.80,593.90 V588.50 H106.50 V593.90" fill="none" stroke="#554c4c" stroke-width="1"/>
<text x="75.60" y="589.40" font-size="10.2" font-weight="bold" text-anchor="start" fill="#453d3d" letter-spacing="1.2" stroke="#453d3d" stroke-width="0.1">**</text>
<rect x="53.15" y="607.25" width="3.5" height="3.5" fill="#1a4aa0"/>
<rect x="58.25" y="618.55" width="3.5" height="3.5" fill="#1a4aa0"/>
<rect x="53.15" y="622.85" width="3.5" height="3.5" fill="#1a4aa0"/>
<rect x="48.25" y="625.05" width="3.5" height="3.5" fill="#1a4aa0"/>
<rect x="53.15" y="628.35" width="3.5" height="3.5" fill="#1a4aa0"/>
<rect x="58.25" y="631.85" width="3.5" height="3.5" fill="#1a4aa0"/>
<rect x="53.15" y="633.75" width="3.5" height="3.5" fill="#1a4aa0"/>
<rect x="58.25" y="636.25" width="3.5" height="3.5" fill="#1a4aa0"/>
<rect x="48.25" y="639.15" width="3.5" height="3.5" fill="#1a4aa0"/>
<rect x="53.15" y="640.25" width="3.5" height="3.5" fill="#1a4aa0"/>
<rect x="53.15" y="646.55" width="3.5" height="3.5" fill="#1a4aa0"/>
<line x1="44.10" y1="628.30" x2="65.50" y2="628.30" stroke="#111" stroke-width="0.9"/>
<line x1="44.10" y1="635.20" x2="65.50" y2="635.20" stroke="#111" stroke-width="0.9"/>
<line x1="54.80" y1="628.30" x2="54.80" y2="635.20" stroke="#111" stroke-width="0.9"/>
<line x1="33.80" y1="631.60" x2="75.80" y2="631.60" stroke="#1a1a1a" stroke-width="0.9"/>
<circle cx="109.00" cy="659.10" r="2.15" fill="#e8141a"/>
<circle cx="103.90" cy="660.60" r="2.15" fill="#e8141a"/>
<circle cx="91.60" cy="662.00" r="2.15" fill="#e8141a"/>
<circle cx="96.70" cy="662.50" r="2.15" fill="#e8141a"/>
<circle cx="101.70" cy="662.00" r="2.15" fill="#e8141a"/>
<circle cx="116.20" cy="662.50" r="2.15" fill="#e8141a"/>
<circle cx="121.60" cy="661.40" r="2.15" fill="#e8141a"/>
<circle cx="96.70" cy="666.10" r="2.15" fill="#e8141a"/>
<circle cx="101.40" cy="666.10" r="2.15" fill="#e8141a"/>
<circle cx="106.50" cy="663.90" r="2.15" fill="#e8141a"/>
<circle cx="111.60" cy="663.20" r="2.15" fill="#e8141a"/>
<circle cx="111.60" cy="667.20" r="2.15" fill="#e8141a"/>
<circle cx="116.20" cy="666.10" r="2.15" fill="#e8141a"/>
<circle cx="121.60" cy="666.10" r="2.15" fill="#e8141a"/>
<circle cx="106.50" cy="669.70" r="2.15" fill="#e8141a"/>
<line x1="95.80" y1="662.90" x2="117.20" y2="662.90" stroke="#111" stroke-width="0.9"/>
<line x1="95.80" y1="664.90" x2="117.20" y2="664.90" stroke="#111" stroke-width="0.9"/>
<line x1="106.50" y1="662.90" x2="106.50" y2="664.90" stroke="#111" stroke-width="0.9"/>
<line x1="85.50" y1="663.90" x2="127.50" y2="663.90" stroke="#1a1a1a" stroke-width="0.9"/>
<line x1="165.50" y1="587.80" x2="165.50" y2="673.95" stroke="#111" stroke-width="0.9"/>
<line x1="162.70" y1="673.50" x2="165.50" y2="673.50" stroke="#111" stroke-width="0.9"/>
<text x="161.70" y="676.12" font-size="6.3" font-weight="bold" text-anchor="end" fill="#000"  textLength="2.98" lengthAdjust="spacingAndGlyphs">0</text>
<line x1="162.70" y1="656.46" x2="165.50" y2="656.46" stroke="#111" stroke-width="0.9"/>
<text x="161.70" y="659.08" font-size="6.3" font-weight="bold" text-anchor="end" fill="#000"  textLength="11.91" lengthAdjust="spacingAndGlyphs">2000</text>
<line x1="162.70" y1="639.42" x2="165.50" y2="639.42" stroke="#111" stroke-width="0.9"/>
<text x="161.70" y="642.04" font-size="6.3" font-weight="bold" text-anchor="end" fill="#000"  textLength="11.91" lengthAdjust="spacingAndGlyphs">4000</text>
<line x1="162.70" y1="622.38" x2="165.50" y2="622.38" stroke="#111" stroke-width="0.9"/>
<text x="161.70" y="625.00" font-size="6.3" font-weight="bold" text-anchor="end" fill="#000"  textLength="11.91" lengthAdjust="spacingAndGlyphs">6000</text>
<line x1="162.70" y1="605.34" x2="165.50" y2="605.34" stroke="#111" stroke-width="0.9"/>
<text x="161.70" y="607.96" font-size="6.3" font-weight="bold" text-anchor="end" fill="#000"  textLength="11.91" lengthAdjust="spacingAndGlyphs">8000</text>
<line x1="162.70" y1="588.30" x2="165.50" y2="588.30" stroke="#111" stroke-width="0.9"/>
<text x="161.70" y="590.92" font-size="6.3" font-weight="bold" text-anchor="end" fill="#000"  textLength="14.89" lengthAdjust="spacingAndGlyphs">10000</text>
<line x1="165.05" y1="673.50" x2="277.00" y2="673.50" stroke="#111" stroke-width="0.9"/>
<line x1="196.70" y1="673.50" x2="196.70" y2="675.70" stroke="#111" stroke-width="0.8"/>
<line x1="248.60" y1="673.50" x2="248.60" y2="675.70" stroke="#111" stroke-width="0.8"/>
<text x="182.54" y="684.00" font-size="7.3" text-anchor="start" fill="#000" >Ctrl/F1/</text>
<g fill="none" stroke="#858585" stroke-width="0.7"><circle cx="208.66" cy="680.74" r="1.78"/><path d="M208.66,682.52 V685.60 M207.24,684.06 H210.09"/></g>
<text x="236.98" y="684.00" font-size="7.3" text-anchor="start" fill="#000" >B'/F1/</text>
<g fill="none" stroke="#858585" stroke-width="0.7"><circle cx="258.02" cy="680.74" r="1.78"/><path d="M258.02,682.52 V685.60 M256.59,684.06 H259.45"/></g>
<text x="0" y="0" font-size="6.3" font-weight="bold" text-anchor="middle" transform="translate(146.60,625.60) rotate(-90)">FA level (ng/ml)</text>
<path d="M196.70,593.90 V588.50 H248.60 V593.90" fill="none" stroke="#554c4c" stroke-width="1"/>
<text x="217.60" y="589.40" font-size="10.2" font-weight="bold" text-anchor="start" fill="#453d3d" letter-spacing="1.2" stroke="#453d3d" stroke-width="0.1">**</text>
<rect x="200.05" y="603.35" width="3.5" height="3.5" fill="#1a4aa0"/>
<rect x="190.25" y="604.75" width="3.5" height="3.5" fill="#1a4aa0"/>
<rect x="194.95" y="607.25" width="3.5" height="3.5" fill="#1a4aa0"/>
<rect x="190.25" y="613.45" width="3.5" height="3.5" fill="#1a4aa0"/>
<rect x="200.05" y="613.95" width="3.5" height="3.5" fill="#1a4aa0"/>
<rect x="194.95" y="615.65" width="3.5" height="3.5" fill="#1a4aa0"/>
<rect x="194.95" y="617.35" width="3.5" height="3.5" fill="#1a4aa0"/>
<rect x="200.05" y="617.85" width="3.5" height="3.5" fill="#1a4aa0"/>
<rect x="190.25" y="621.15" width="3.5" height="3.5" fill="#1a4aa0"/>
<rect x="194.95" y="623.15" width="3.5" height="3.5" fill="#1a4aa0"/>
<rect x="200.05" y="625.75" width="3.5" height="3.5" fill="#1a4aa0"/>
<rect x="194.95" y="629.15" width="3.5" height="3.5" fill="#1a4aa0"/>
<line x1="186.00" y1="615.20" x2="207.40" y2="615.20" stroke="#111" stroke-width="0.9"/>
<line x1="186.00" y1="621.00" x2="207.40" y2="621.00" stroke="#111" stroke-width="0.9"/>
<line x1="196.70" y1="615.20" x2="196.70" y2="621.00" stroke="#111" stroke-width="0.9"/>
<line x1="175.70" y1="618.40" x2="217.70" y2="618.40" stroke="#1a1a1a" stroke-width="0.9"/>
<circle cx="243.60" cy="634.00" r="2.15" fill="#e8141a"/>
<circle cx="253.50" cy="633.00" r="2.15" fill="#e8141a"/>
<circle cx="248.60" cy="637.80" r="2.15" fill="#e8141a"/>
<circle cx="263.20" cy="638.80" r="2.15" fill="#e8141a"/>
<circle cx="238.60" cy="639.90" r="2.15" fill="#e8141a"/>
<circle cx="243.60" cy="640.70" r="2.15" fill="#e8141a"/>
<circle cx="258.40" cy="639.90" r="2.15" fill="#e8141a"/>
<circle cx="248.60" cy="642.40" r="2.15" fill="#e8141a"/>
<circle cx="253.50" cy="642.40" r="2.15" fill="#e8141a"/>
<circle cx="238.60" cy="643.80" r="2.15" fill="#e8141a"/>
<circle cx="258.40" cy="643.80" r="2.15" fill="#e8141a"/>
<circle cx="243.60" cy="647.80" r="2.15" fill="#e8141a"/>
<circle cx="253.50" cy="646.40" r="2.15" fill="#e8141a"/>
<circle cx="248.60" cy="648.90" r="2.15" fill="#e8141a"/>
<circle cx="248.60" cy="655.90" r="2.15" fill="#e8141a"/>
<line x1="237.90" y1="640.80" x2="259.30" y2="640.80" stroke="#111" stroke-width="0.9"/>
<line x1="237.90" y1="644.00" x2="259.30" y2="644.00" stroke="#111" stroke-width="0.9"/>
<line x1="248.60" y1="640.80" x2="248.60" y2="644.00" stroke="#111" stroke-width="0.9"/>
<line x1="227.60" y1="642.40" x2="269.60" y2="642.40" stroke="#1a1a1a" stroke-width="0.9"/>
<line x1="302.50" y1="587.80" x2="302.50" y2="673.95" stroke="#111" stroke-width="0.9"/>
<line x1="299.70" y1="673.50" x2="302.50" y2="673.50" stroke="#111" stroke-width="0.9"/>
<text x="297.50" y="676.05" font-size="6.1" font-weight="bold" text-anchor="end" fill="#000"  textLength="3.26" lengthAdjust="spacingAndGlyphs">0</text>
<line x1="299.70" y1="656.46" x2="302.50" y2="656.46" stroke="#111" stroke-width="0.9"/>
<text x="297.50" y="659.01" font-size="6.1" font-weight="bold" text-anchor="end" fill="#000"  textLength="6.51" lengthAdjust="spacingAndGlyphs">10</text>
<line x1="299.70" y1="639.42" x2="302.50" y2="639.42" stroke="#111" stroke-width="0.9"/>
<text x="297.50" y="641.97" font-size="6.1" font-weight="bold" text-anchor="end" fill="#000"  textLength="6.51" lengthAdjust="spacingAndGlyphs">20</text>
<line x1="299.70" y1="622.38" x2="302.50" y2="622.38" stroke="#111" stroke-width="0.9"/>
<text x="297.50" y="624.93" font-size="6.1" font-weight="bold" text-anchor="end" fill="#000"  textLength="6.51" lengthAdjust="spacingAndGlyphs">30</text>
<line x1="299.70" y1="605.34" x2="302.50" y2="605.34" stroke="#111" stroke-width="0.9"/>
<text x="297.50" y="607.89" font-size="6.1" font-weight="bold" text-anchor="end" fill="#000"  textLength="6.51" lengthAdjust="spacingAndGlyphs">40</text>
<line x1="299.70" y1="588.30" x2="302.50" y2="588.30" stroke="#111" stroke-width="0.9"/>
<text x="297.50" y="590.85" font-size="6.1" font-weight="bold" text-anchor="end" fill="#000"  textLength="6.51" lengthAdjust="spacingAndGlyphs">50</text>
<line x1="302.05" y1="673.50" x2="414.50" y2="673.50" stroke="#111" stroke-width="0.9"/>
<line x1="331.10" y1="673.50" x2="331.10" y2="675.70" stroke="#111" stroke-width="0.8"/>
<line x1="382.80" y1="673.50" x2="382.80" y2="675.70" stroke="#111" stroke-width="0.8"/>
<text x="316.94" y="684.00" font-size="7.3" text-anchor="start" fill="#000" >Ctrl/F1/</text>
<g fill="none" stroke="#858585" stroke-width="0.7"><circle cx="343.06" cy="680.74" r="1.78"/><path d="M343.06,682.52 V685.60 M341.64,684.06 H344.49"/></g>
<text x="371.18" y="684.00" font-size="7.3" text-anchor="start" fill="#000" >B'/F1/</text>
<g fill="none" stroke="#858585" stroke-width="0.7"><circle cx="392.22" cy="680.74" r="1.78"/><path d="M392.22,682.52 V685.60 M390.79,684.06 H393.65"/></g>
<text x="0" y="0" font-size="6.3" font-weight="bold" text-anchor="middle" transform="translate(288.80,625.60) rotate(-90)">HCY level (μmol/L)</text>
<path d="M331.10,593.90 V588.50 H382.80 V593.90" fill="none" stroke="#554c4c" stroke-width="1"/>
<text x="351.90" y="589.40" font-size="10.2" font-weight="bold" text-anchor="start" fill="#453d3d" letter-spacing="1.2" stroke="#453d3d" stroke-width="0.1">**</text>
<rect x="329.35" y="637.65" width="3.5" height="3.5" fill="#1a4aa0"/>
<rect x="334.25" y="639.35" width="3.5" height="3.5" fill="#1a4aa0"/>
<rect x="319.35" y="644.55" width="3.5" height="3.5" fill="#1a4aa0"/>
<rect x="329.35" y="643.75" width="3.5" height="3.5" fill="#1a4aa0"/>
<rect x="324.35" y="646.95" width="3.5" height="3.5" fill="#1a4aa0"/>
<rect x="334.25" y="646.35" width="3.5" height="3.5" fill="#1a4aa0"/>
<rect x="329.35" y="648.15" width="3.5" height="3.5" fill="#1a4aa0"/>
<rect x="324.35" y="650.95" width="3.5" height="3.5" fill="#1a4aa0"/>
<rect x="329.35" y="649.95" width="3.5" height="3.5" fill="#1a4aa0"/>
<rect x="339.45" y="650.95" width="3.5" height="3.5" fill="#1a4aa0"/>
<rect x="334.25" y="653.95" width="3.5" height="3.5" fill="#1a4aa0"/>
<rect x="329.35" y="656.25" width="3.5" height="3.5" fill="#1a4aa0"/>
<line x1="320.40" y1="647.50" x2="341.80" y2="647.50" stroke="#111" stroke-width="0.9"/>
<line x1="320.40" y1="651.50" x2="341.80" y2="651.50" stroke="#111" stroke-width="0.9"/>
<line x1="331.10" y1="647.50" x2="331.10" y2="651.50" stroke="#111" stroke-width="0.9"/>
<line x1="310.10" y1="649.30" x2="352.10" y2="649.30" stroke="#1a1a1a" stroke-width="0.9"/>
<circle cx="382.80" cy="604.90" r="2.15" fill="#e8141a"/>
<circle cx="382.80" cy="619.90" r="2.15" fill="#e8141a"/>
<circle cx="377.60" cy="626.90" r="2.15" fill="#e8141a"/>
<circle cx="382.80" cy="630.10" r="2.15" fill="#e8141a"/>
<circle cx="377.60" cy="636.30" r="2.15" fill="#e8141a"/>
<circle cx="382.80" cy="637.00" r="2.15" fill="#e8141a"/>
<circle cx="387.80" cy="636.30" r="2.15" fill="#e8141a"/>
<circle cx="367.80" cy="639.60" r="2.15" fill="#e8141a"/>
<circle cx="372.60" cy="640.70" r="2.15" fill="#e8141a"/>
<circle cx="392.80" cy="639.90" r="2.15" fill="#e8141a"/>
<circle cx="377.60" cy="642.80" r="2.15" fill="#e8141a"/>
<circle cx="382.80" cy="643.30" r="2.15" fill="#e8141a"/>
<circle cx="387.80" cy="641.40" r="2.15" fill="#e8141a"/>
<circle cx="387.80" cy="645.70" r="2.15" fill="#e8141a"/>
<circle cx="382.80" cy="648.90" r="2.15" fill="#e8141a"/>
<line x1="372.10" y1="632.40" x2="393.50" y2="632.40" stroke="#111" stroke-width="0.9"/>
<line x1="372.10" y1="638.20" x2="393.50" y2="638.20" stroke="#111" stroke-width="0.9"/>
<line x1="382.80" y1="632.40" x2="382.80" y2="638.20" stroke="#111" stroke-width="0.9"/>
<line x1="361.80" y1="635.10" x2="403.80" y2="635.10" stroke="#1a1a1a" stroke-width="0.9"/>
<text x="-0.60" y="204.70" font-size="9.4" font-weight="bold" text-anchor="start" fill="#1a1414" font-style="italic">b</text>
<text x="-0.60" y="337.20" font-size="9.4" font-weight="bold" text-anchor="start" fill="#1a1414" font-style="italic">c</text>
<text x="-0.60" y="460.80" font-size="9.4" font-weight="bold" text-anchor="start" fill="#1a1414" font-style="italic">d</text>
<text x="-0.60" y="578.80" font-size="9.4" font-weight="bold" text-anchor="start" fill="#1a1414" font-style="italic">e</text>
</svg>
</body></html>
